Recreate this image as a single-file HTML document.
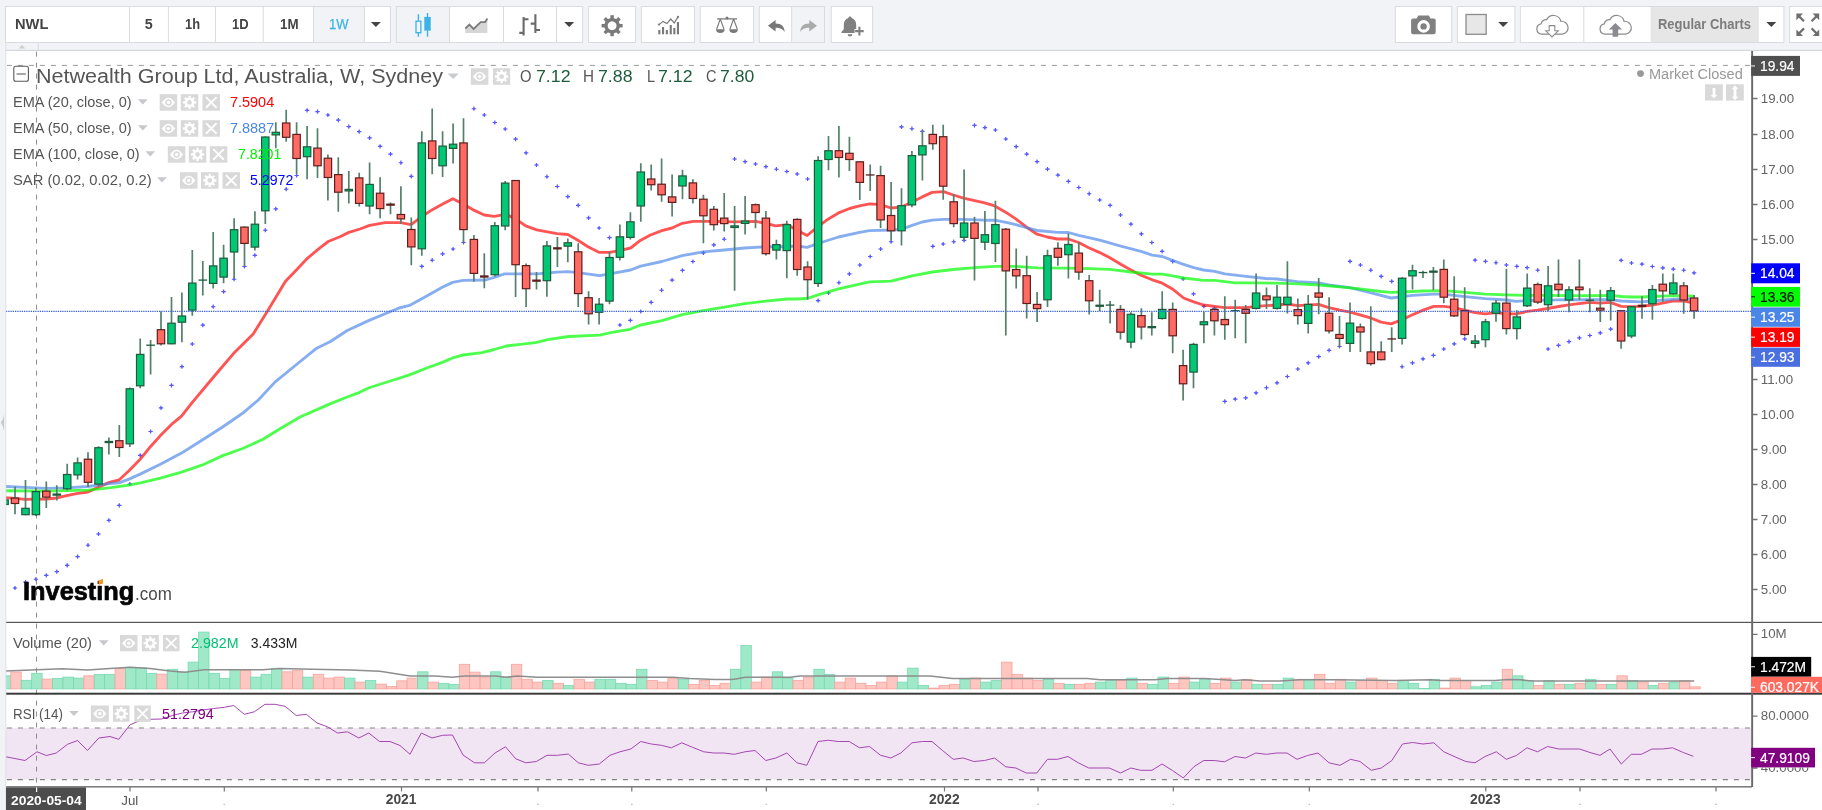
<!DOCTYPE html>
<html><head><meta charset="utf-8"><title>NWL chart</title>
<style>
html,body{margin:0;padding:0;}
body{width:1822px;height:810px;overflow:hidden;background:#f1f3f6;position:relative;font-family:"Liberation Sans",sans-serif;}
#chart{position:absolute;left:6px;top:51px;width:1816px;height:759px;background:#fff;}
svg{position:absolute;left:0;top:0;}
#labels{position:absolute;left:0;top:0;width:1822px;height:810px;will-change:transform;}
.t{position:absolute;white-space:nowrap;transform-origin:0 50%;font-family:"Liberation Sans",sans-serif;}
</style></head><body>
<div id="chart"></div>
<svg width="1822" height="810" viewBox="0 0 1822 810">
<defs><clipPath id="cm"><rect x="6" y="51" width="1745.2" height="571"/></clipPath><clipPath id="cv"><rect x="6" y="623" width="1745.2" height="70"/></clipPath><clipPath id="cr"><rect x="6" y="695" width="1745.2" height="91"/></clipPath></defs>
<rect x="6" y="728" width="1745.2" height="51.6" fill="#f1e5f3"/>
<path d="M6.9,728 H1751 M6.9,779.6 H1751" stroke="#838383" stroke-width="1.15" stroke-dasharray="5 6" fill="none"/>
<path d="M6.9,65.4 H1751" stroke="#9a9a9a" stroke-width="1" stroke-dasharray="5 6" fill="none"/>
<path d="M36.55,51.6 V786" stroke="#8a8a8a" stroke-width="1" stroke-dasharray="5 6" fill="none"/>
<g clip-path="url(#cv)">
<rect x="0.4" y="675.8" width="10.4" height="13.1" fill="#9fe9c9" stroke="#77d9b1" stroke-width="0.8"/>
<rect x="10.8" y="672.1" width="10.4" height="16.8" fill="#fdc6c1" stroke="#f7a49d" stroke-width="0.8"/>
<rect x="21.3" y="680.3" width="10.4" height="8.6" fill="#9fe9c9" stroke="#77d9b1" stroke-width="0.8"/>
<rect x="31.7" y="673.3" width="10.4" height="15.6" fill="#9fe9c9" stroke="#77d9b1" stroke-width="0.8"/>
<rect x="42.1" y="679.1" width="10.4" height="9.8" fill="#fdc6c1" stroke="#f7a49d" stroke-width="0.8"/>
<rect x="52.6" y="678.3" width="10.4" height="10.6" fill="#9fe9c9" stroke="#77d9b1" stroke-width="0.8"/>
<rect x="63.0" y="677.1" width="10.4" height="11.8" fill="#9fe9c9" stroke="#77d9b1" stroke-width="0.8"/>
<rect x="73.4" y="678.1" width="10.4" height="10.8" fill="#9fe9c9" stroke="#77d9b1" stroke-width="0.8"/>
<rect x="83.8" y="675.8" width="10.4" height="13.1" fill="#fdc6c1" stroke="#f7a49d" stroke-width="0.8"/>
<rect x="94.3" y="674.6" width="10.4" height="14.3" fill="#9fe9c9" stroke="#77d9b1" stroke-width="0.8"/>
<rect x="104.7" y="674.3" width="10.4" height="14.6" fill="#9fe9c9" stroke="#77d9b1" stroke-width="0.8"/>
<rect x="115.1" y="668.6" width="10.4" height="20.3" fill="#fdc6c1" stroke="#f7a49d" stroke-width="0.8"/>
<rect x="125.6" y="667.3" width="10.4" height="21.6" fill="#9fe9c9" stroke="#77d9b1" stroke-width="0.8"/>
<rect x="136.0" y="667.8" width="10.4" height="21.1" fill="#9fe9c9" stroke="#77d9b1" stroke-width="0.8"/>
<rect x="146.4" y="673.3" width="10.4" height="15.6" fill="#9fe9c9" stroke="#77d9b1" stroke-width="0.8"/>
<rect x="156.8" y="674.1" width="10.4" height="14.8" fill="#fdc6c1" stroke="#f7a49d" stroke-width="0.8"/>
<rect x="167.3" y="669.3" width="10.4" height="19.6" fill="#9fe9c9" stroke="#77d9b1" stroke-width="0.8"/>
<rect x="177.7" y="672.1" width="10.4" height="16.8" fill="#9fe9c9" stroke="#77d9b1" stroke-width="0.8"/>
<rect x="188.1" y="662.1" width="10.4" height="26.8" fill="#9fe9c9" stroke="#77d9b1" stroke-width="0.8"/>
<rect x="198.6" y="632.1" width="10.4" height="56.8" fill="#9fe9c9" stroke="#77d9b1" stroke-width="0.8"/>
<rect x="209.0" y="673.3" width="10.4" height="15.6" fill="#9fe9c9" stroke="#77d9b1" stroke-width="0.8"/>
<rect x="219.4" y="678.3" width="10.4" height="10.6" fill="#9fe9c9" stroke="#77d9b1" stroke-width="0.8"/>
<rect x="229.9" y="669.6" width="10.4" height="19.3" fill="#9fe9c9" stroke="#77d9b1" stroke-width="0.8"/>
<rect x="240.3" y="670.6" width="10.4" height="18.3" fill="#fdc6c1" stroke="#f7a49d" stroke-width="0.8"/>
<rect x="250.7" y="677.1" width="10.4" height="11.8" fill="#9fe9c9" stroke="#77d9b1" stroke-width="0.8"/>
<rect x="261.1" y="674.3" width="10.4" height="14.6" fill="#9fe9c9" stroke="#77d9b1" stroke-width="0.8"/>
<rect x="271.6" y="668.3" width="10.4" height="20.6" fill="#9fe9c9" stroke="#77d9b1" stroke-width="0.8"/>
<rect x="282.0" y="671.8" width="10.4" height="17.1" fill="#fdc6c1" stroke="#f7a49d" stroke-width="0.8"/>
<rect x="292.4" y="670.6" width="10.4" height="18.3" fill="#fdc6c1" stroke="#f7a49d" stroke-width="0.8"/>
<rect x="302.9" y="677.1" width="10.4" height="11.8" fill="#9fe9c9" stroke="#77d9b1" stroke-width="0.8"/>
<rect x="313.3" y="674.3" width="10.4" height="14.6" fill="#fdc6c1" stroke="#f7a49d" stroke-width="0.8"/>
<rect x="323.7" y="678.1" width="10.4" height="10.8" fill="#fdc6c1" stroke="#f7a49d" stroke-width="0.8"/>
<rect x="334.1" y="677.1" width="10.4" height="11.8" fill="#fdc6c1" stroke="#f7a49d" stroke-width="0.8"/>
<rect x="344.6" y="678.1" width="10.4" height="10.8" fill="#9fe9c9" stroke="#77d9b1" stroke-width="0.8"/>
<rect x="355.0" y="682.1" width="10.4" height="6.8" fill="#fdc6c1" stroke="#f7a49d" stroke-width="0.8"/>
<rect x="365.4" y="680.6" width="10.4" height="8.3" fill="#9fe9c9" stroke="#77d9b1" stroke-width="0.8"/>
<rect x="375.9" y="684.1" width="10.4" height="4.8" fill="#fdc6c1" stroke="#f7a49d" stroke-width="0.8"/>
<rect x="386.3" y="686.6" width="10.4" height="2.3" fill="#fdc6c1" stroke="#f7a49d" stroke-width="0.8"/>
<rect x="396.7" y="680.8" width="10.4" height="8.1" fill="#fdc6c1" stroke="#f7a49d" stroke-width="0.8"/>
<rect x="407.1" y="678.1" width="10.4" height="10.8" fill="#fdc6c1" stroke="#f7a49d" stroke-width="0.8"/>
<rect x="417.6" y="671.8" width="10.4" height="17.1" fill="#9fe9c9" stroke="#77d9b1" stroke-width="0.8"/>
<rect x="428.0" y="682.1" width="10.4" height="6.8" fill="#fdc6c1" stroke="#f7a49d" stroke-width="0.8"/>
<rect x="438.4" y="683.3" width="10.4" height="5.6" fill="#9fe9c9" stroke="#77d9b1" stroke-width="0.8"/>
<rect x="448.9" y="684.3" width="10.4" height="4.6" fill="#9fe9c9" stroke="#77d9b1" stroke-width="0.8"/>
<rect x="459.3" y="664.3" width="10.4" height="24.6" fill="#fdc6c1" stroke="#f7a49d" stroke-width="0.8"/>
<rect x="469.7" y="672.1" width="10.4" height="16.8" fill="#fdc6c1" stroke="#f7a49d" stroke-width="0.8"/>
<rect x="480.1" y="677.1" width="10.4" height="11.8" fill="#fdc6c1" stroke="#f7a49d" stroke-width="0.8"/>
<rect x="490.6" y="671.8" width="10.4" height="17.1" fill="#9fe9c9" stroke="#77d9b1" stroke-width="0.8"/>
<rect x="501.0" y="677.1" width="10.4" height="11.8" fill="#9fe9c9" stroke="#77d9b1" stroke-width="0.8"/>
<rect x="511.4" y="664.3" width="10.4" height="24.6" fill="#fdc6c1" stroke="#f7a49d" stroke-width="0.8"/>
<rect x="521.9" y="679.3" width="10.4" height="9.6" fill="#fdc6c1" stroke="#f7a49d" stroke-width="0.8"/>
<rect x="532.3" y="682.1" width="10.4" height="6.8" fill="#fdc6c1" stroke="#f7a49d" stroke-width="0.8"/>
<rect x="542.7" y="680.6" width="10.4" height="8.3" fill="#9fe9c9" stroke="#77d9b1" stroke-width="0.8"/>
<rect x="553.1" y="683.3" width="10.4" height="5.6" fill="#fdc6c1" stroke="#f7a49d" stroke-width="0.8"/>
<rect x="563.6" y="685.6" width="10.4" height="3.3" fill="#9fe9c9" stroke="#77d9b1" stroke-width="0.8"/>
<rect x="574.0" y="679.3" width="10.4" height="9.6" fill="#fdc6c1" stroke="#f7a49d" stroke-width="0.8"/>
<rect x="584.4" y="682.1" width="10.4" height="6.8" fill="#fdc6c1" stroke="#f7a49d" stroke-width="0.8"/>
<rect x="594.9" y="679.3" width="10.4" height="9.6" fill="#9fe9c9" stroke="#77d9b1" stroke-width="0.8"/>
<rect x="605.3" y="679.3" width="10.4" height="9.6" fill="#9fe9c9" stroke="#77d9b1" stroke-width="0.8"/>
<rect x="615.7" y="683.3" width="10.4" height="5.6" fill="#9fe9c9" stroke="#77d9b1" stroke-width="0.8"/>
<rect x="626.2" y="684.3" width="10.4" height="4.6" fill="#9fe9c9" stroke="#77d9b1" stroke-width="0.8"/>
<rect x="636.6" y="669.3" width="10.4" height="19.6" fill="#9fe9c9" stroke="#77d9b1" stroke-width="0.8"/>
<rect x="647.0" y="680.6" width="10.4" height="8.3" fill="#fdc6c1" stroke="#f7a49d" stroke-width="0.8"/>
<rect x="657.4" y="682.1" width="10.4" height="6.8" fill="#fdc6c1" stroke="#f7a49d" stroke-width="0.8"/>
<rect x="667.9" y="678.1" width="10.4" height="10.8" fill="#fdc6c1" stroke="#f7a49d" stroke-width="0.8"/>
<rect x="678.3" y="679.3" width="10.4" height="9.6" fill="#9fe9c9" stroke="#77d9b1" stroke-width="0.8"/>
<rect x="688.7" y="684.3" width="10.4" height="4.6" fill="#fdc6c1" stroke="#f7a49d" stroke-width="0.8"/>
<rect x="699.2" y="680.6" width="10.4" height="8.3" fill="#fdc6c1" stroke="#f7a49d" stroke-width="0.8"/>
<rect x="709.6" y="685.6" width="10.4" height="3.3" fill="#fdc6c1" stroke="#f7a49d" stroke-width="0.8"/>
<rect x="720.0" y="683.3" width="10.4" height="5.6" fill="#fdc6c1" stroke="#f7a49d" stroke-width="0.8"/>
<rect x="730.4" y="669.3" width="10.4" height="19.6" fill="#9fe9c9" stroke="#77d9b1" stroke-width="0.8"/>
<rect x="740.9" y="645.6" width="10.4" height="43.3" fill="#9fe9c9" stroke="#77d9b1" stroke-width="0.8"/>
<rect x="751.3" y="682.1" width="10.4" height="6.8" fill="#fdc6c1" stroke="#f7a49d" stroke-width="0.8"/>
<rect x="761.7" y="677.1" width="10.4" height="11.8" fill="#fdc6c1" stroke="#f7a49d" stroke-width="0.8"/>
<rect x="772.2" y="671.8" width="10.4" height="17.1" fill="#9fe9c9" stroke="#77d9b1" stroke-width="0.8"/>
<rect x="782.6" y="678.1" width="10.4" height="10.8" fill="#9fe9c9" stroke="#77d9b1" stroke-width="0.8"/>
<rect x="793.0" y="680.6" width="10.4" height="8.3" fill="#fdc6c1" stroke="#f7a49d" stroke-width="0.8"/>
<rect x="803.4" y="677.1" width="10.4" height="11.8" fill="#fdc6c1" stroke="#f7a49d" stroke-width="0.8"/>
<rect x="813.9" y="669.3" width="10.4" height="19.6" fill="#9fe9c9" stroke="#77d9b1" stroke-width="0.8"/>
<rect x="824.3" y="674.6" width="10.4" height="14.3" fill="#9fe9c9" stroke="#77d9b1" stroke-width="0.8"/>
<rect x="834.7" y="682.1" width="10.4" height="6.8" fill="#fdc6c1" stroke="#f7a49d" stroke-width="0.8"/>
<rect x="845.2" y="678.1" width="10.4" height="10.8" fill="#fdc6c1" stroke="#f7a49d" stroke-width="0.8"/>
<rect x="855.6" y="683.3" width="10.4" height="5.6" fill="#fdc6c1" stroke="#f7a49d" stroke-width="0.8"/>
<rect x="866.0" y="685.6" width="10.4" height="3.3" fill="#fdc6c1" stroke="#f7a49d" stroke-width="0.8"/>
<rect x="876.4" y="682.1" width="10.4" height="6.8" fill="#fdc6c1" stroke="#f7a49d" stroke-width="0.8"/>
<rect x="886.9" y="675.8" width="10.4" height="13.1" fill="#fdc6c1" stroke="#f7a49d" stroke-width="0.8"/>
<rect x="897.3" y="682.1" width="10.4" height="6.8" fill="#9fe9c9" stroke="#77d9b1" stroke-width="0.8"/>
<rect x="907.7" y="668.1" width="10.4" height="20.8" fill="#9fe9c9" stroke="#77d9b1" stroke-width="0.8"/>
<rect x="918.2" y="685.6" width="10.4" height="3.3" fill="#9fe9c9" stroke="#77d9b1" stroke-width="0.8"/>
<rect x="928.6" y="688.1" width="10.4" height="0.8" fill="#fdc6c1" stroke="#f7a49d" stroke-width="0.8"/>
<rect x="939.0" y="685.6" width="10.4" height="3.3" fill="#fdc6c1" stroke="#f7a49d" stroke-width="0.8"/>
<rect x="949.5" y="684.3" width="10.4" height="4.6" fill="#fdc6c1" stroke="#f7a49d" stroke-width="0.8"/>
<rect x="959.9" y="679.3" width="10.4" height="9.6" fill="#9fe9c9" stroke="#77d9b1" stroke-width="0.8"/>
<rect x="970.3" y="678.1" width="10.4" height="10.8" fill="#fdc6c1" stroke="#f7a49d" stroke-width="0.8"/>
<rect x="980.7" y="682.1" width="10.4" height="6.8" fill="#9fe9c9" stroke="#77d9b1" stroke-width="0.8"/>
<rect x="991.2" y="680.6" width="10.4" height="8.3" fill="#9fe9c9" stroke="#77d9b1" stroke-width="0.8"/>
<rect x="1001.6" y="662.1" width="10.4" height="26.8" fill="#fdc6c1" stroke="#f7a49d" stroke-width="0.8"/>
<rect x="1012.0" y="674.3" width="10.4" height="14.6" fill="#fdc6c1" stroke="#f7a49d" stroke-width="0.8"/>
<rect x="1022.5" y="678.1" width="10.4" height="10.8" fill="#fdc6c1" stroke="#f7a49d" stroke-width="0.8"/>
<rect x="1032.9" y="680.6" width="10.4" height="8.3" fill="#fdc6c1" stroke="#f7a49d" stroke-width="0.8"/>
<rect x="1043.3" y="679.3" width="10.4" height="9.6" fill="#9fe9c9" stroke="#77d9b1" stroke-width="0.8"/>
<rect x="1053.7" y="683.3" width="10.4" height="5.6" fill="#fdc6c1" stroke="#f7a49d" stroke-width="0.8"/>
<rect x="1064.2" y="684.3" width="10.4" height="4.6" fill="#9fe9c9" stroke="#77d9b1" stroke-width="0.8"/>
<rect x="1074.6" y="684.3" width="10.4" height="4.6" fill="#fdc6c1" stroke="#f7a49d" stroke-width="0.8"/>
<rect x="1085.0" y="683.3" width="10.4" height="5.6" fill="#fdc6c1" stroke="#f7a49d" stroke-width="0.8"/>
<rect x="1095.5" y="682.1" width="10.4" height="6.8" fill="#9fe9c9" stroke="#77d9b1" stroke-width="0.8"/>
<rect x="1105.9" y="680.6" width="10.4" height="8.3" fill="#9fe9c9" stroke="#77d9b1" stroke-width="0.8"/>
<rect x="1116.3" y="680.6" width="10.4" height="8.3" fill="#fdc6c1" stroke="#f7a49d" stroke-width="0.8"/>
<rect x="1126.7" y="678.1" width="10.4" height="10.8" fill="#9fe9c9" stroke="#77d9b1" stroke-width="0.8"/>
<rect x="1137.2" y="683.3" width="10.4" height="5.6" fill="#fdc6c1" stroke="#f7a49d" stroke-width="0.8"/>
<rect x="1147.6" y="684.3" width="10.4" height="4.6" fill="#9fe9c9" stroke="#77d9b1" stroke-width="0.8"/>
<rect x="1158.0" y="677.1" width="10.4" height="11.8" fill="#9fe9c9" stroke="#77d9b1" stroke-width="0.8"/>
<rect x="1168.5" y="683.3" width="10.4" height="5.6" fill="#fdc6c1" stroke="#f7a49d" stroke-width="0.8"/>
<rect x="1178.9" y="677.1" width="10.4" height="11.8" fill="#fdc6c1" stroke="#f7a49d" stroke-width="0.8"/>
<rect x="1189.3" y="682.1" width="10.4" height="6.8" fill="#9fe9c9" stroke="#77d9b1" stroke-width="0.8"/>
<rect x="1199.7" y="679.3" width="10.4" height="9.6" fill="#9fe9c9" stroke="#77d9b1" stroke-width="0.8"/>
<rect x="1210.2" y="683.3" width="10.4" height="5.6" fill="#fdc6c1" stroke="#f7a49d" stroke-width="0.8"/>
<rect x="1220.6" y="678.1" width="10.4" height="10.8" fill="#fdc6c1" stroke="#f7a49d" stroke-width="0.8"/>
<rect x="1231.0" y="682.1" width="10.4" height="6.8" fill="#9fe9c9" stroke="#77d9b1" stroke-width="0.8"/>
<rect x="1241.5" y="679.3" width="10.4" height="9.6" fill="#fdc6c1" stroke="#f7a49d" stroke-width="0.8"/>
<rect x="1251.9" y="684.3" width="10.4" height="4.6" fill="#9fe9c9" stroke="#77d9b1" stroke-width="0.8"/>
<rect x="1262.3" y="684.3" width="10.4" height="4.6" fill="#fdc6c1" stroke="#f7a49d" stroke-width="0.8"/>
<rect x="1272.8" y="684.3" width="10.4" height="4.6" fill="#9fe9c9" stroke="#77d9b1" stroke-width="0.8"/>
<rect x="1283.2" y="678.1" width="10.4" height="10.8" fill="#9fe9c9" stroke="#77d9b1" stroke-width="0.8"/>
<rect x="1293.6" y="679.3" width="10.4" height="9.6" fill="#fdc6c1" stroke="#f7a49d" stroke-width="0.8"/>
<rect x="1304.0" y="679.3" width="10.4" height="9.6" fill="#9fe9c9" stroke="#77d9b1" stroke-width="0.8"/>
<rect x="1314.5" y="674.3" width="10.4" height="14.6" fill="#fdc6c1" stroke="#f7a49d" stroke-width="0.8"/>
<rect x="1324.9" y="683.3" width="10.4" height="5.6" fill="#fdc6c1" stroke="#f7a49d" stroke-width="0.8"/>
<rect x="1335.3" y="679.3" width="10.4" height="9.6" fill="#fdc6c1" stroke="#f7a49d" stroke-width="0.8"/>
<rect x="1345.8" y="682.1" width="10.4" height="6.8" fill="#9fe9c9" stroke="#77d9b1" stroke-width="0.8"/>
<rect x="1356.2" y="680.6" width="10.4" height="8.3" fill="#fdc6c1" stroke="#f7a49d" stroke-width="0.8"/>
<rect x="1366.6" y="678.1" width="10.4" height="10.8" fill="#fdc6c1" stroke="#f7a49d" stroke-width="0.8"/>
<rect x="1377.0" y="680.6" width="10.4" height="8.3" fill="#fdc6c1" stroke="#f7a49d" stroke-width="0.8"/>
<rect x="1387.5" y="683.3" width="10.4" height="5.6" fill="#fdc6c1" stroke="#f7a49d" stroke-width="0.8"/>
<rect x="1397.9" y="680.6" width="10.4" height="8.3" fill="#9fe9c9" stroke="#77d9b1" stroke-width="0.8"/>
<rect x="1408.3" y="683.3" width="10.4" height="5.6" fill="#9fe9c9" stroke="#77d9b1" stroke-width="0.8"/>
<rect x="1418.8" y="688.6" width="10.4" height="0.3" fill="#9fe9c9" stroke="#77d9b1" stroke-width="0.8"/>
<rect x="1429.2" y="679.3" width="10.4" height="9.6" fill="#9fe9c9" stroke="#77d9b1" stroke-width="0.8"/>
<rect x="1439.6" y="688.1" width="10.4" height="0.8" fill="#fdc6c1" stroke="#f7a49d" stroke-width="0.8"/>
<rect x="1450.0" y="678.1" width="10.4" height="10.8" fill="#fdc6c1" stroke="#f7a49d" stroke-width="0.8"/>
<rect x="1460.5" y="680.6" width="10.4" height="8.3" fill="#fdc6c1" stroke="#f7a49d" stroke-width="0.8"/>
<rect x="1470.9" y="686.8" width="10.4" height="2.1" fill="#9fe9c9" stroke="#77d9b1" stroke-width="0.8"/>
<rect x="1481.3" y="685.6" width="10.4" height="3.3" fill="#9fe9c9" stroke="#77d9b1" stroke-width="0.8"/>
<rect x="1491.8" y="682.1" width="10.4" height="6.8" fill="#9fe9c9" stroke="#77d9b1" stroke-width="0.8"/>
<rect x="1502.2" y="669.3" width="10.4" height="19.6" fill="#fdc6c1" stroke="#f7a49d" stroke-width="0.8"/>
<rect x="1512.6" y="675.8" width="10.4" height="13.1" fill="#9fe9c9" stroke="#77d9b1" stroke-width="0.8"/>
<rect x="1523.0" y="680.6" width="10.4" height="8.3" fill="#9fe9c9" stroke="#77d9b1" stroke-width="0.8"/>
<rect x="1533.5" y="685.6" width="10.4" height="3.3" fill="#fdc6c1" stroke="#f7a49d" stroke-width="0.8"/>
<rect x="1543.9" y="680.6" width="10.4" height="8.3" fill="#9fe9c9" stroke="#77d9b1" stroke-width="0.8"/>
<rect x="1554.3" y="684.3" width="10.4" height="4.6" fill="#fdc6c1" stroke="#f7a49d" stroke-width="0.8"/>
<rect x="1564.8" y="684.3" width="10.4" height="4.6" fill="#9fe9c9" stroke="#77d9b1" stroke-width="0.8"/>
<rect x="1575.2" y="683.3" width="10.4" height="5.6" fill="#fdc6c1" stroke="#f7a49d" stroke-width="0.8"/>
<rect x="1585.6" y="679.3" width="10.4" height="9.6" fill="#9fe9c9" stroke="#77d9b1" stroke-width="0.8"/>
<rect x="1596.1" y="684.3" width="10.4" height="4.6" fill="#fdc6c1" stroke="#f7a49d" stroke-width="0.8"/>
<rect x="1606.5" y="684.3" width="10.4" height="4.6" fill="#9fe9c9" stroke="#77d9b1" stroke-width="0.8"/>
<rect x="1616.9" y="675.8" width="10.4" height="13.1" fill="#fdc6c1" stroke="#f7a49d" stroke-width="0.8"/>
<rect x="1627.3" y="680.6" width="10.4" height="8.3" fill="#9fe9c9" stroke="#77d9b1" stroke-width="0.8"/>
<rect x="1637.8" y="682.1" width="10.4" height="6.8" fill="#fdc6c1" stroke="#f7a49d" stroke-width="0.8"/>
<rect x="1648.2" y="685.6" width="10.4" height="3.3" fill="#9fe9c9" stroke="#77d9b1" stroke-width="0.8"/>
<rect x="1658.6" y="683.3" width="10.4" height="5.6" fill="#fdc6c1" stroke="#f7a49d" stroke-width="0.8"/>
<rect x="1669.1" y="682.1" width="10.4" height="6.8" fill="#9fe9c9" stroke="#77d9b1" stroke-width="0.8"/>
<rect x="1679.5" y="680.6" width="10.4" height="8.3" fill="#fdc6c1" stroke="#f7a49d" stroke-width="0.8"/>
<rect x="1689.9" y="686.8" width="10.4" height="2.1" fill="#fdc6c1" stroke="#f7a49d" stroke-width="0.8"/>
<path d="M6.0,671.0 L37.0,669.8 L62.5,668.8 L87.5,670.0 L110.0,668.5 L130.0,667.3 L150.0,668.5 L170.0,671.0 L185.0,672.3 L204.0,669.8 L225.0,669.8 L262.5,669.8 L280.0,668.5 L312.5,669.3 L350.0,670.0 L380.0,671.3 L410.0,676.0 L435.0,676.0 L452.5,677.3 L464.3,676.0 L495.5,676.0 L506.3,677.3 L516.8,676.0 L537.5,677.3 L590.0,677.3 L640.0,677.3 L672.5,677.3 L690.0,678.5 L715.0,679.5 L732.5,679.5 L745.5,677.3 L765.0,677.3 L790.0,677.3 L800.0,676.0 L840.0,676.0 L895.5,676.0 L930.0,676.0 L952.5,678.5 L1005.0,678.5 L1087.5,678.5 L1100.0,679.8 L1155.0,679.8 L1167.5,678.5 L1205.0,678.5 L1235.0,680.5 L1245.0,679.8 L1260.0,681.0 L1280.0,681.0 L1300.0,679.8 L1335.5,679.8 L1395.0,680.5 L1430.0,679.8 L1440.0,680.5 L1495.0,680.5 L1507.5,679.5 L1520.0,679.8 L1532.5,681.0 L1570.0,681.0 L1620.0,681.0 L1694.3,681.0" stroke="#8e8e8e" stroke-width="1.6" fill="none" stroke-linejoin="round"/>
</g>
<g clip-path="url(#cr)"><path d="M6.0,756.8 L25.0,760.5 L37.0,751.8 L46.3,755.5 L56.3,753.0 L67.5,744.3 L77.5,740.5 L87.5,750.5 L98.8,738.0 L110.0,736.5 L118.8,739.3 L130.0,724.8 L140.0,720.5 L150.0,719.3 L161.8,719.0 L172.5,715.5 L182.5,713.0 L192.5,711.8 L203.8,709.8 L213.8,708.5 L224.3,707.3 L233.8,705.5 L244.3,714.3 L254.3,711.8 L265.0,704.3 L275.0,704.3 L285.0,706.3 L296.3,715.5 L306.3,714.3 L317.0,723.0 L327.5,726.8 L337.5,733.0 L347.5,731.8 L358.8,738.0 L368.8,733.0 L379.5,741.5 L390.0,741.5 L400.0,745.5 L410.0,754.3 L421.3,733.0 L432.0,738.0 L442.5,735.3 L452.5,735.0 L463.0,755.0 L474.5,762.8 L484.3,762.8 L495.0,753.0 L505.5,746.8 L515.8,758.8 L525.8,762.8 L536.3,761.5 L547.0,755.3 L557.5,755.3 L568.3,754.0 L578.3,762.8 L588.3,765.3 L599.3,764.0 L610.0,755.3 L620.0,751.8 L630.8,749.0 L640.8,741.5 L651.3,744.0 L661.3,745.3 L671.3,747.8 L681.8,742.8 L692.5,747.3 L703.8,751.8 L713.8,753.0 L723.8,753.0 L734.3,754.3 L745.0,751.8 L755.0,750.5 L765.8,760.5 L775.8,758.0 L786.8,753.0 L797.0,762.8 L806.8,765.3 L818.0,741.5 L828.3,740.3 L838.3,741.5 L849.3,741.5 L859.5,747.8 L869.5,746.5 L880.4,755.2 L890.8,758.0 L900.8,753.0 L912.0,742.8 L922.5,741.5 L932.0,741.5 L942.5,750.5 L953.3,759.3 L963.3,758.0 L973.8,761.5 L984.5,760.5 L994.5,758.0 L1005.8,766.8 L1015.8,768.0 L1026.3,773.0 L1036.8,773.0 L1047.5,759.3 L1057.5,759.3 L1068.0,756.5 L1078.3,762.8 L1088.8,768.0 L1098.8,768.0 L1109.3,768.0 L1120.5,773.0 L1130.8,768.0 L1140.8,770.3 L1152.0,770.3 L1162.0,764.0 L1172.5,770.5 L1183.3,778.0 L1193.8,766.8 L1203.8,760.5 L1214.3,760.5 L1224.5,761.8 L1235.0,756.5 L1245.5,758.0 L1255.8,753.0 L1266.3,754.3 L1276.8,753.0 L1287.0,753.0 L1297.0,759.3 L1307.5,755.5 L1318.0,753.0 L1329.0,762.8 L1340.0,765.3 L1350.5,759.3 L1360.0,761.5 L1371.3,770.3 L1381.3,768.0 L1391.8,760.5 L1402.5,744.0 L1412.5,742.5 L1423.0,744.0 L1433.8,742.8 L1443.8,751.8 L1455.0,756.8 L1465.8,761.5 L1475.0,762.8 L1485.0,756.5 L1496.3,751.8 L1506.3,759.3 L1516.3,755.5 L1527.0,747.8 L1537.5,751.8 L1547.5,746.5 L1558.8,749.0 L1579.5,749.0 L1590.0,752.5 L1600.0,755.3 L1610.0,749.0 L1621.3,764.0 L1631.3,754.3 L1641.3,754.3 L1652.0,749.0 L1662.5,749.0 L1672.5,747.8 L1683.3,752.5 L1693.3,756.3" stroke="#a347b0" stroke-width="1" fill="none" stroke-linejoin="round"/></g>
<g clip-path="url(#cm)">
<path d="M12.8,588.0h4.4M15.0,585.9v4.2M23.3,582.1h4.4M25.5,580.0v4.2M33.7,579.2h4.4M35.9,577.1v4.2M44.1,575.3h4.4M46.3,573.2v4.2M54.6,571.6h4.4M56.8,569.5v4.2M65.0,565.4h4.4M67.2,563.3v4.2M75.4,556.6h4.4M77.6,554.5v4.2M85.8,545.2h4.4M88.0,543.1v4.2M96.3,534.0h4.4M98.5,531.9v4.2M106.7,520.3h4.4M108.9,518.2v4.2M117.1,505.4h4.4M119.3,503.3v4.2M127.6,484.0h4.4M129.8,481.9v4.2M138.0,455.4h4.4M140.2,453.3v4.2M148.4,431.5h4.4M150.6,429.4v4.2M158.8,407.8h4.4M161.0,405.7v4.2M169.3,385.4h4.4M171.5,383.3v4.2M179.7,366.6h4.4M181.9,364.5v4.2M190.1,344.0h4.4M192.3,341.9v4.2M200.6,325.1h4.4M202.8,323.0v4.2M211.0,306.7h4.4M213.2,304.6v4.2M221.4,291.6h4.4M223.6,289.5v4.2M231.9,279.2h4.4M234.1,277.1v4.2M242.3,266.5h4.4M244.5,264.4v4.2M252.7,255.3h4.4M254.9,253.2v4.2M263.1,230.2h4.4M265.3,228.1v4.2M273.6,208.8h4.4M275.8,206.7v4.2M284.0,189.2h4.4M286.2,187.1v4.2M294.4,175.5h4.4M296.6,173.4v4.2M304.9,110.3h4.4M307.1,108.2v4.2M315.3,111.6h4.4M317.5,109.5v4.2M325.7,115.0h4.4M327.9,112.9v4.2M336.1,120.1h4.4M338.3,118.0v4.2M346.6,126.6h4.4M348.8,124.5v4.2M357.0,131.6h4.4M359.2,129.5v4.2M367.4,137.8h4.4M369.6,135.7v4.2M377.9,146.3h4.4M380.1,144.2v4.2M388.3,154.1h4.4M390.5,152.0v4.2M398.7,162.7h4.4M400.9,160.6v4.2M409.1,176.4h4.4M411.3,174.3v4.2M419.6,266.4h4.4M421.8,264.3v4.2M430.0,260.2h4.4M432.2,258.1v4.2M440.4,253.9h4.4M442.6,251.8v4.2M450.9,249.0h4.4M453.1,246.9v4.2M461.3,242.5h4.4M463.5,240.4v4.2M471.7,108.7h4.4M473.9,106.6v4.2M482.1,115.0h4.4M484.3,112.9v4.2M492.6,122.5h4.4M494.8,120.4v4.2M503.0,129.0h4.4M505.2,126.9v4.2M513.4,139.1h4.4M515.6,137.0v4.2M523.9,152.8h4.4M526.1,150.7v4.2M534.3,165.0h4.4M536.5,162.9v4.2M544.7,176.7h4.4M546.9,174.6v4.2M555.1,186.5h4.4M557.4,184.4v4.2M565.6,196.6h4.4M567.8,194.5v4.2M576.0,205.4h4.4M578.2,203.3v4.2M586.4,217.9h4.4M588.6,215.8v4.2M596.9,228.0h4.4M599.1,225.9v4.2M607.3,237.6h4.4M609.5,235.5v4.2M617.7,325.0h4.4M619.9,322.9v4.2M628.2,320.3h4.4M630.4,318.2v4.2M638.6,311.5h4.4M640.8,309.4v4.2M649.0,302.4h4.4M651.2,300.3v4.2M659.4,290.2h4.4M661.6,288.1v4.2M669.9,280.1h4.4M672.1,278.0v4.2M680.3,270.3h4.4M682.5,268.2v4.2M690.7,261.5h4.4M692.9,259.4v4.2M701.2,252.9h4.4M703.4,250.8v4.2M711.6,244.9h4.4M713.8,242.8v4.2M722.0,239.2h4.4M724.2,237.1v4.2M732.4,159.0h4.4M734.6,156.9v4.2M742.9,161.6h4.4M745.1,159.5v4.2M753.3,164.0h4.4M755.5,161.9v4.2M763.7,166.6h4.4M765.9,164.5v4.2M774.2,169.2h4.4M776.4,167.1v4.2M784.6,171.5h4.4M786.8,169.4v4.2M795.0,174.0h4.4M797.2,171.9v4.2M805.4,179.0h4.4M807.6,176.9v4.2M815.9,300.6h4.4M818.1,298.5v4.2M826.3,293.0h4.4M828.5,290.9v4.2M836.7,282.7h4.4M838.9,280.6v4.2M847.2,273.9h4.4M849.4,271.8v4.2M857.6,265.0h4.4M859.8,262.9v4.2M868.0,256.5h4.4M870.2,254.4v4.2M878.4,249.0h4.4M880.6,246.9v4.2M888.9,241.7h4.4M891.1,239.6v4.2M899.3,126.9h4.4M901.5,124.8v4.2M909.7,128.7h4.4M911.9,126.6v4.2M920.2,131.3h4.4M922.4,129.2v4.2M930.6,246.4h4.4M932.8,244.3v4.2M941.0,244.0h4.4M943.2,241.9v4.2M951.5,241.7h4.4M953.7,239.6v4.2M961.9,240.4h4.4M964.1,238.3v4.2M972.3,125.3h4.4M974.5,123.2v4.2M982.7,127.6h4.4M984.9,125.5v4.2M993.2,130.0h4.4M995.4,127.9v4.2M1003.6,139.0h4.4M1005.8,136.9v4.2M1014.0,146.6h4.4M1016.2,144.5v4.2M1024.5,154.1h4.4M1026.7,152.0v4.2M1034.9,161.6h4.4M1037.1,159.5v4.2M1045.3,169.1h4.4M1047.5,167.0v4.2M1055.7,175.1h4.4M1057.9,173.0v4.2M1066.2,181.3h4.4M1068.4,179.2v4.2M1076.6,187.5h4.4M1078.8,185.4v4.2M1087.0,193.7h4.4M1089.2,191.6v4.2M1097.5,200.0h4.4M1099.7,197.9v4.2M1107.9,205.3h4.4M1110.1,203.2v4.2M1118.3,215.0h4.4M1120.5,212.9v4.2M1128.7,224.1h4.4M1130.9,222.0v4.2M1139.2,233.9h4.4M1141.4,231.8v4.2M1149.6,242.5h4.4M1151.8,240.4v4.2M1160.0,251.3h4.4M1162.2,249.2v4.2M1170.5,261.4h4.4M1172.7,259.3v4.2M1180.9,278.8h4.4M1183.1,276.7v4.2M1191.3,293.8h4.4M1193.5,291.7v4.2M1201.7,306.3h4.4M1203.9,304.2v4.2M1212.2,308.4h4.4M1214.4,306.3v4.2M1222.6,401.4h4.4M1224.8,399.3v4.2M1233.0,399.1h4.4M1235.2,397.0v4.2M1243.5,397.8h4.4M1245.7,395.7v4.2M1253.9,392.9h4.4M1256.1,390.8v4.2M1264.3,387.7h4.4M1266.5,385.6v4.2M1274.8,382.8h4.4M1277.0,380.7v4.2M1285.2,376.5h4.4M1287.4,374.4v4.2M1295.6,369.0h4.4M1297.8,366.9v4.2M1306.0,362.8h4.4M1308.2,360.7v4.2M1316.5,356.6h4.4M1318.7,354.5v4.2M1326.9,350.3h4.4M1329.1,348.2v4.2M1337.3,346.5h4.4M1339.5,344.4v4.2M1347.8,261.4h4.4M1350.0,259.3v4.2M1358.2,265.0h4.4M1360.4,262.9v4.2M1368.6,270.2h4.4M1370.8,268.1v4.2M1379.0,276.4h4.4M1381.2,274.3v4.2M1389.5,281.4h4.4M1391.7,279.3v4.2M1399.9,366.7h4.4M1402.1,364.6v4.2M1410.3,362.8h4.4M1412.5,360.7v4.2M1420.8,358.9h4.4M1423.0,356.8v4.2M1431.2,355.3h4.4M1433.4,353.2v4.2M1441.6,349.0h4.4M1443.8,346.9v4.2M1452.0,343.9h4.4M1454.2,341.8v4.2M1462.5,338.9h4.4M1464.7,336.8v4.2M1472.9,260.1h4.4M1475.1,258.0v4.2M1483.3,261.4h4.4M1485.5,259.3v4.2M1493.8,262.7h4.4M1496.0,260.6v4.2M1504.2,265.0h4.4M1506.4,262.9v4.2M1514.6,266.3h4.4M1516.8,264.2v4.2M1525.0,267.6h4.4M1527.2,265.5v4.2M1535.5,270.2h4.4M1537.7,268.1v4.2M1545.9,349.0h4.4M1548.1,346.9v4.2M1556.3,345.4h4.4M1558.5,343.3v4.2M1566.8,341.6h4.4M1569.0,339.5v4.2M1577.2,337.8h4.4M1579.4,335.7v4.2M1587.6,335.5h4.4M1589.8,333.4v4.2M1598.1,332.8h4.4M1600.3,330.7v4.2M1608.5,329.1h4.4M1610.7,327.0v4.2M1618.9,260.4h4.4M1621.1,258.3v4.2M1629.3,263.0h4.4M1631.5,260.9v4.2M1639.8,264.1h4.4M1642.0,262.0v4.2M1650.2,266.5h4.4M1652.4,264.4v4.2M1660.6,267.9h4.4M1662.8,265.8v4.2M1671.1,269.1h4.4M1673.3,267.0v4.2M1681.5,270.2h4.4M1683.7,268.1v4.2M1691.9,272.9h4.4M1694.1,270.8v4.2" stroke="#5555ff" stroke-width="1.15" fill="none"/>
<g fill="#5a5aff"><circle cx="15.0" cy="588.0" r="1.05"/><circle cx="25.5" cy="582.1" r="1.05"/><circle cx="35.9" cy="579.2" r="1.05"/><circle cx="46.3" cy="575.3" r="1.05"/><circle cx="56.8" cy="571.6" r="1.05"/><circle cx="67.2" cy="565.4" r="1.05"/><circle cx="77.6" cy="556.6" r="1.05"/><circle cx="88.0" cy="545.2" r="1.05"/><circle cx="98.5" cy="534.0" r="1.05"/><circle cx="108.9" cy="520.3" r="1.05"/><circle cx="119.3" cy="505.4" r="1.05"/><circle cx="129.8" cy="484.0" r="1.05"/><circle cx="140.2" cy="455.4" r="1.05"/><circle cx="150.6" cy="431.5" r="1.05"/><circle cx="161.0" cy="407.8" r="1.05"/><circle cx="171.5" cy="385.4" r="1.05"/><circle cx="181.9" cy="366.6" r="1.05"/><circle cx="192.3" cy="344.0" r="1.05"/><circle cx="202.8" cy="325.1" r="1.05"/><circle cx="213.2" cy="306.7" r="1.05"/><circle cx="223.6" cy="291.6" r="1.05"/><circle cx="234.1" cy="279.2" r="1.05"/><circle cx="244.5" cy="266.5" r="1.05"/><circle cx="254.9" cy="255.3" r="1.05"/><circle cx="265.3" cy="230.2" r="1.05"/><circle cx="275.8" cy="208.8" r="1.05"/><circle cx="286.2" cy="189.2" r="1.05"/><circle cx="296.6" cy="175.5" r="1.05"/><circle cx="307.1" cy="110.3" r="1.05"/><circle cx="317.5" cy="111.6" r="1.05"/><circle cx="327.9" cy="115.0" r="1.05"/><circle cx="338.3" cy="120.1" r="1.05"/><circle cx="348.8" cy="126.6" r="1.05"/><circle cx="359.2" cy="131.6" r="1.05"/><circle cx="369.6" cy="137.8" r="1.05"/><circle cx="380.1" cy="146.3" r="1.05"/><circle cx="390.5" cy="154.1" r="1.05"/><circle cx="400.9" cy="162.7" r="1.05"/><circle cx="411.3" cy="176.4" r="1.05"/><circle cx="421.8" cy="266.4" r="1.05"/><circle cx="432.2" cy="260.2" r="1.05"/><circle cx="442.6" cy="253.9" r="1.05"/><circle cx="453.1" cy="249.0" r="1.05"/><circle cx="463.5" cy="242.5" r="1.05"/><circle cx="473.9" cy="108.7" r="1.05"/><circle cx="484.3" cy="115.0" r="1.05"/><circle cx="494.8" cy="122.5" r="1.05"/><circle cx="505.2" cy="129.0" r="1.05"/><circle cx="515.6" cy="139.1" r="1.05"/><circle cx="526.1" cy="152.8" r="1.05"/><circle cx="536.5" cy="165.0" r="1.05"/><circle cx="546.9" cy="176.7" r="1.05"/><circle cx="557.4" cy="186.5" r="1.05"/><circle cx="567.8" cy="196.6" r="1.05"/><circle cx="578.2" cy="205.4" r="1.05"/><circle cx="588.6" cy="217.9" r="1.05"/><circle cx="599.1" cy="228.0" r="1.05"/><circle cx="609.5" cy="237.6" r="1.05"/><circle cx="619.9" cy="325.0" r="1.05"/><circle cx="630.4" cy="320.3" r="1.05"/><circle cx="640.8" cy="311.5" r="1.05"/><circle cx="651.2" cy="302.4" r="1.05"/><circle cx="661.6" cy="290.2" r="1.05"/><circle cx="672.1" cy="280.1" r="1.05"/><circle cx="682.5" cy="270.3" r="1.05"/><circle cx="692.9" cy="261.5" r="1.05"/><circle cx="703.4" cy="252.9" r="1.05"/><circle cx="713.8" cy="244.9" r="1.05"/><circle cx="724.2" cy="239.2" r="1.05"/><circle cx="734.6" cy="159.0" r="1.05"/><circle cx="745.1" cy="161.6" r="1.05"/><circle cx="755.5" cy="164.0" r="1.05"/><circle cx="765.9" cy="166.6" r="1.05"/><circle cx="776.4" cy="169.2" r="1.05"/><circle cx="786.8" cy="171.5" r="1.05"/><circle cx="797.2" cy="174.0" r="1.05"/><circle cx="807.6" cy="179.0" r="1.05"/><circle cx="818.1" cy="300.6" r="1.05"/><circle cx="828.5" cy="293.0" r="1.05"/><circle cx="838.9" cy="282.7" r="1.05"/><circle cx="849.4" cy="273.9" r="1.05"/><circle cx="859.8" cy="265.0" r="1.05"/><circle cx="870.2" cy="256.5" r="1.05"/><circle cx="880.6" cy="249.0" r="1.05"/><circle cx="891.1" cy="241.7" r="1.05"/><circle cx="901.5" cy="126.9" r="1.05"/><circle cx="911.9" cy="128.7" r="1.05"/><circle cx="922.4" cy="131.3" r="1.05"/><circle cx="932.8" cy="246.4" r="1.05"/><circle cx="943.2" cy="244.0" r="1.05"/><circle cx="953.7" cy="241.7" r="1.05"/><circle cx="964.1" cy="240.4" r="1.05"/><circle cx="974.5" cy="125.3" r="1.05"/><circle cx="984.9" cy="127.6" r="1.05"/><circle cx="995.4" cy="130.0" r="1.05"/><circle cx="1005.8" cy="139.0" r="1.05"/><circle cx="1016.2" cy="146.6" r="1.05"/><circle cx="1026.7" cy="154.1" r="1.05"/><circle cx="1037.1" cy="161.6" r="1.05"/><circle cx="1047.5" cy="169.1" r="1.05"/><circle cx="1057.9" cy="175.1" r="1.05"/><circle cx="1068.4" cy="181.3" r="1.05"/><circle cx="1078.8" cy="187.5" r="1.05"/><circle cx="1089.2" cy="193.7" r="1.05"/><circle cx="1099.7" cy="200.0" r="1.05"/><circle cx="1110.1" cy="205.3" r="1.05"/><circle cx="1120.5" cy="215.0" r="1.05"/><circle cx="1130.9" cy="224.1" r="1.05"/><circle cx="1141.4" cy="233.9" r="1.05"/><circle cx="1151.8" cy="242.5" r="1.05"/><circle cx="1162.2" cy="251.3" r="1.05"/><circle cx="1172.7" cy="261.4" r="1.05"/><circle cx="1183.1" cy="278.8" r="1.05"/><circle cx="1193.5" cy="293.8" r="1.05"/><circle cx="1203.9" cy="306.3" r="1.05"/><circle cx="1214.4" cy="308.4" r="1.05"/><circle cx="1224.8" cy="401.4" r="1.05"/><circle cx="1235.2" cy="399.1" r="1.05"/><circle cx="1245.7" cy="397.8" r="1.05"/><circle cx="1256.1" cy="392.9" r="1.05"/><circle cx="1266.5" cy="387.7" r="1.05"/><circle cx="1277.0" cy="382.8" r="1.05"/><circle cx="1287.4" cy="376.5" r="1.05"/><circle cx="1297.8" cy="369.0" r="1.05"/><circle cx="1308.2" cy="362.8" r="1.05"/><circle cx="1318.7" cy="356.6" r="1.05"/><circle cx="1329.1" cy="350.3" r="1.05"/><circle cx="1339.5" cy="346.5" r="1.05"/><circle cx="1350.0" cy="261.4" r="1.05"/><circle cx="1360.4" cy="265.0" r="1.05"/><circle cx="1370.8" cy="270.2" r="1.05"/><circle cx="1381.2" cy="276.4" r="1.05"/><circle cx="1391.7" cy="281.4" r="1.05"/><circle cx="1402.1" cy="366.7" r="1.05"/><circle cx="1412.5" cy="362.8" r="1.05"/><circle cx="1423.0" cy="358.9" r="1.05"/><circle cx="1433.4" cy="355.3" r="1.05"/><circle cx="1443.8" cy="349.0" r="1.05"/><circle cx="1454.2" cy="343.9" r="1.05"/><circle cx="1464.7" cy="338.9" r="1.05"/><circle cx="1475.1" cy="260.1" r="1.05"/><circle cx="1485.5" cy="261.4" r="1.05"/><circle cx="1496.0" cy="262.7" r="1.05"/><circle cx="1506.4" cy="265.0" r="1.05"/><circle cx="1516.8" cy="266.3" r="1.05"/><circle cx="1527.2" cy="267.6" r="1.05"/><circle cx="1537.7" cy="270.2" r="1.05"/><circle cx="1548.1" cy="349.0" r="1.05"/><circle cx="1558.5" cy="345.4" r="1.05"/><circle cx="1569.0" cy="341.6" r="1.05"/><circle cx="1579.4" cy="337.8" r="1.05"/><circle cx="1589.8" cy="335.5" r="1.05"/><circle cx="1600.3" cy="332.8" r="1.05"/><circle cx="1610.7" cy="329.1" r="1.05"/><circle cx="1621.1" cy="260.4" r="1.05"/><circle cx="1631.5" cy="263.0" r="1.05"/><circle cx="1642.0" cy="264.1" r="1.05"/><circle cx="1652.4" cy="266.5" r="1.05"/><circle cx="1662.8" cy="267.9" r="1.05"/><circle cx="1673.3" cy="269.1" r="1.05"/><circle cx="1683.7" cy="270.2" r="1.05"/><circle cx="1694.1" cy="272.9" r="1.05"/></g>
<path d="M5.6,497.6 L25.4,499.4 L46.3,499.0 L56.5,498.0 L66.7,495.7 L77.8,493.3 L88.0,492.0 L98.0,487.4 L109.3,482.4 L119.0,480.0 L129.0,470.7 L140.7,458.7 L150.4,446.7 L160.4,435.6 L171.5,424.4 L181.5,416.1 L191.7,403.1 L205.2,387.0 L218.2,371.5 L233.7,353.3 L253.2,333.9 L267.4,311.3 L285.5,281.2 L295.9,270.4 L307.4,258.3 L319.3,248.3 L328.2,241.5 L340.0,236.7 L348.9,232.4 L360.0,229.0 L369.6,225.4 L385.2,222.6 L400.7,222.6 L411.1,224.6 L421.5,216.9 L431.9,209.9 L442.7,203.9 L452.9,198.7 L463.2,203.9 L474.4,210.4 L484.2,215.0 L494.3,216.3 L505.5,214.3 L515.6,218.9 L525.7,225.9 L536.7,229.8 L556.9,233.7 L567.8,234.5 L577.9,240.2 L588.0,246.7 L599.4,252.4 L609.6,252.4 L619.4,250.6 L630.6,248.0 L640.7,240.2 L650.5,235.0 L661.9,230.6 L672.0,228.0 L682.2,223.3 L693.3,221.3 L703.2,221.3 L713.3,221.3 L734.5,221.8 L755.8,221.3 L765.9,223.3 L775.8,225.9 L787.2,224.6 L797.0,230.2 L807.1,235.5 L818.0,226.7 L828.4,218.9 L838.5,212.9 L849.6,208.5 L859.5,205.9 L869.6,203.9 L880.7,204.6 L890.9,208.0 L901.0,207.2 L912.1,202.0 L922.2,196.9 L932.1,192.4 L943.5,191.7 L953.3,195.0 L963.5,198.2 L974.6,200.7 L984.7,202.8 L994.8,205.9 L1006.0,212.4 L1015.8,218.9 L1025.9,226.7 L1037.1,234.2 L1047.2,237.0 L1057.3,239.0 L1068.4,239.0 L1078.6,242.5 L1088.7,247.8 L1099.8,252.6 L1109.9,257.8 L1120.8,264.3 L1130.9,270.0 L1141.0,275.2 L1152.2,279.8 L1162.3,283.2 L1172.4,288.9 L1183.6,298.0 L1193.7,301.9 L1203.5,305.0 L1214.7,306.3 L1224.8,307.6 L1234.9,307.6 L1246.0,307.6 L1256.2,306.3 L1266.0,305.7 L1277.4,305.0 L1287.3,304.0 L1297.4,305.7 L1318.6,304.4 L1328.7,307.6 L1339.9,310.2 L1350.0,312.2 L1359.9,314.8 L1371.3,318.2 L1381.1,322.1 L1391.2,323.9 L1402.4,319.5 L1412.5,314.8 L1422.6,310.4 L1433.7,306.3 L1443.9,306.3 L1453.7,307.6 L1464.9,310.2 L1475.0,312.7 L1485.1,313.8 L1496.2,312.7 L1506.3,313.8 L1516.2,313.8 L1527.3,311.4 L1537.5,310.2 L1547.6,308.5 L1558.8,306.5 L1568.8,304.8 L1578.9,303.7 L1589.8,302.3 L1600.1,303.1 L1610.2,302.3 L1621.3,306.3 L1631.4,306.6 L1641.2,306.3 L1652.4,305.0 L1662.4,303.1 L1672.5,301.0 L1683.7,301.0 L1693.8,302.9" stroke="#ff0000" stroke-opacity="0.67" stroke-width="2.85" fill="none" stroke-linejoin="round" stroke-linecap="round"/>
<path d="M5.6,486.5 L25.4,487.4 L46.3,488.3 L66.7,487.8 L88.0,486.5 L109.3,483.7 L119.0,482.8 L129.0,479.1 L140.7,473.9 L160.4,464.3 L181.5,453.1 L201.9,440.2 L222.2,427.2 L242.6,413.3 L258.3,400.0 L275.2,381.9 L295.9,365.0 L316.7,348.2 L330.0,341.7 L347.3,330.5 L369.7,320.1 L388.8,312.3 L399.1,308.0 L409.5,305.4 L426.8,295.9 L442.3,287.3 L452.7,282.4 L463.1,280.4 L485.5,280.0 L494.2,277.3 L504.5,273.8 L537.4,273.8 L556.9,272.1 L568.5,271.7 L577.9,272.6 L599.6,275.7 L609.6,273.9 L630.6,270.0 L640.7,266.1 L661.9,261.5 L682.2,255.7 L703.2,251.9 L724.4,250.0 L744.6,248.0 L765.9,246.7 L787.2,246.7 L797.0,246.0 L807.1,247.4 L818.0,243.5 L838.5,237.0 L859.5,232.4 L869.6,230.6 L890.9,230.0 L901.0,229.3 L912.1,225.4 L922.2,222.0 L932.1,220.2 L943.5,219.4 L963.5,219.4 L984.7,220.2 L994.8,220.2 L1006.0,222.3 L1015.8,224.6 L1025.9,227.5 L1037.1,230.5 L1057.3,232.3 L1068.4,232.5 L1078.6,235.4 L1099.8,240.1 L1120.8,246.1 L1141.0,251.3 L1152.2,255.2 L1162.3,256.5 L1172.4,260.4 L1183.6,264.3 L1193.7,267.6 L1203.5,270.0 L1214.7,271.3 L1224.8,273.9 L1246.0,276.4 L1266.0,278.5 L1277.4,279.0 L1287.3,280.3 L1297.4,281.6 L1318.6,282.9 L1328.7,285.0 L1350.0,287.6 L1371.3,292.8 L1391.2,298.0 L1402.4,296.7 L1412.5,295.4 L1433.7,294.1 L1443.9,294.1 L1453.7,295.4 L1464.9,296.7 L1485.1,298.7 L1506.3,300.0 L1516.2,301.3 L1527.3,300.6 L1547.6,300.1 L1568.8,299.6 L1589.8,299.7 L1610.2,299.7 L1621.3,301.0 L1631.4,301.5 L1641.2,301.8 L1652.4,301.0 L1662.4,300.2 L1672.5,299.4 L1683.7,298.6 L1693.8,299.1" stroke="#4985e7" stroke-opacity="0.67" stroke-width="2.85" fill="none" stroke-linejoin="round" stroke-linecap="round"/>
<path d="M5.6,490.7 L46.3,491.1 L88.0,490.2 L109.3,487.8 L129.0,485.2 L140.7,482.8 L160.4,478.1 L181.5,472.2 L201.9,465.2 L222.2,455.9 L242.6,448.5 L263.0,439.3 L279.6,429.0 L300.0,417.0 L330.0,403.9 L347.3,397.0 L357.6,393.2 L369.7,387.5 L388.8,381.5 L409.5,374.9 L426.8,368.0 L442.3,362.4 L454.4,357.3 L463.1,355.0 L482.1,352.6 L494.2,349.5 L506.3,346.0 L520.1,344.3 L535.6,342.6 L547.7,339.6 L568.5,336.5 L599.6,335.1 L613.4,332.2 L630.0,329.3 L640.7,325.0 L661.9,320.6 L682.2,314.6 L703.2,310.7 L724.4,307.1 L744.6,303.7 L765.9,301.1 L787.2,299.0 L797.0,299.0 L807.1,298.5 L818.0,294.9 L838.5,288.9 L859.5,284.2 L869.6,281.9 L890.9,281.1 L912.1,275.9 L932.1,272.0 L953.3,269.5 L974.6,267.6 L994.8,266.3 L1015.8,266.3 L1037.1,267.8 L1068.4,268.1 L1088.7,268.7 L1109.9,269.4 L1130.9,272.0 L1152.2,274.1 L1162.3,274.1 L1172.4,275.9 L1183.6,278.0 L1203.5,280.3 L1214.7,280.3 L1234.9,282.9 L1256.2,282.9 L1277.4,283.2 L1297.4,283.9 L1318.6,285.0 L1339.9,286.8 L1359.9,288.9 L1381.1,291.5 L1391.2,292.3 L1402.4,292.0 L1422.6,291.0 L1443.9,290.7 L1464.9,292.3 L1485.1,294.1 L1506.3,294.9 L1527.3,295.4 L1547.6,295.4 L1568.8,295.6 L1589.8,295.7 L1610.2,295.4 L1621.3,296.5 L1631.4,297.0 L1641.2,297.0 L1652.4,296.5 L1662.4,296.2 L1672.5,295.7 L1683.7,295.7 L1693.8,296.2" stroke="#00ff00" stroke-opacity="0.7" stroke-width="2.85" fill="none" stroke-linejoin="round" stroke-linecap="round"/>
<path d="M4.6,495.0V508.0M15.0,486.5V514.3M25.5,480.0V515.2M35.9,487.4V516.0M46.3,481.5V508.1M56.8,485.2V500.4M67.2,463.7V490.6M77.6,457.4V479.4M88.0,452.2V487.0M98.5,446.3V486.5M108.9,437.4V454.6M119.3,425.0V456.9M129.8,387.4V447.0M140.2,338.6V388.3M150.6,339.9V374.6M161.0,311.3V345.6M171.5,297.1V344.3M181.9,292.4V342.2M192.3,249.9V315.7M202.8,261.0V295.5M213.2,232.0V288.5M223.6,244.7V283.3M234.1,218.3V278.2M244.5,226.6V266.0M254.9,211.3V250.4M265.3,136.5V224.0M275.8,122.2V148.2M286.2,109.8V141.7M296.6,122.2V174.1M307.1,126.1V179.3M317.5,128.2V178.0M327.9,154.6V200.5M338.3,157.2V211.7M348.8,171.0V203.4M359.2,172.8V206.5M369.6,162.4V214.3M380.1,177.2V218.2M390.5,202.6V214.3M400.9,186.3V224.1M411.3,217.4V265.3M421.8,131.3V255.7M432.2,108.5V174.3M442.6,131.3V176.9M453.1,123.5V163.4M463.5,118.3V242.3M473.9,235.0V281.7M484.3,253.2V288.2M494.8,222.0V276.5M505.2,181.1V230.3M515.6,180.0V297.0M526.1,263.5V307.1M536.5,272.1V289.5M546.9,241.0V296.7M557.4,237.1V266.9M567.8,238.4V262.2M578.2,243.3V307.1M588.6,291.3V324.5M599.1,298.0V324.5M609.5,251.9V304.2M619.9,224.6V260.4M630.4,212.2V239.4M640.8,163.2V221.8M651.2,164.5V190.4M661.6,158.5V201.8M672.1,174.6V216.6M682.5,169.7V199.2M692.9,179.3V203.4M703.4,194.8V243.3M713.8,206.0V230.6M724.2,193.0V231.6M734.6,206.0V290.7M745.1,196.1V234.5M755.5,203.4V228.3M765.9,210.9V255.5M776.4,239.7V259.6M786.8,220.7V278.3M797.2,218.2V275.8M807.6,261.2V299.5M818.1,156.2V287.1M828.5,135.9V170.2M838.9,126.1V177.4M849.4,136.7V170.9M859.8,161.3V200.0M870.2,164.4V190.9M880.6,165.7V228.0M891.1,182.1V240.4M901.5,188.3V245.6M911.9,151.0V207.2M922.4,130.0V180.5M932.8,124.8V149.7M943.2,124.8V199.7M953.7,194.3V227.2M964.1,169.6V240.4M974.5,216.8V280.6M984.9,211.1V250.0M995.4,200.7V261.9M1005.8,228.0V335.6M1016.2,248.4V288.4M1026.7,255.8V318.4M1037.1,292.0V322.1M1047.5,249.7V307.0M1057.9,242.2V265.7M1068.4,233.4V278.5M1078.8,242.2V279.8M1089.2,275.0V314.5M1099.7,289.7V310.9M1110.1,301.1V323.4M1120.5,305.0V339.4M1130.9,312.2V348.3M1141.4,308.3V339.4M1151.8,312.2V335.6M1162.2,291.2V319.5M1172.7,302.4V353.2M1183.1,349.8V400.6M1193.5,342.8V388.2M1203.9,311.7V343.3M1214.4,307.6V335.6M1224.8,296.2V339.7M1235.2,299.8V338.2M1245.7,305.0V343.3M1256.1,273.6V309.6M1266.5,287.6V308.9M1277.0,285.0V309.6M1287.4,261.2V313.5M1297.8,298.5V324.4M1308.2,294.9V333.5M1318.7,278.0V314.3M1329.1,297.2V333.5M1339.5,316.1V346.5M1350.0,302.4V351.9M1360.4,323.4V351.9M1370.8,306.3V365.4M1381.2,341.3V360.2M1391.7,327.3V351.9M1402.1,277.2V344.6M1412.5,264.8V289.4M1423.0,270.7V278.0M1433.4,266.9V290.2M1443.8,259.6V303.2M1454.2,276.2V316.9M1464.7,287.3V336.3M1475.1,335.0V348.3M1485.5,318.7V347.2M1496.0,300.0V321.8M1506.4,268.7V334.5M1516.8,310.2V339.4M1527.2,273.6V307.0M1537.7,282.4V303.9M1548.1,266.1V310.9M1558.5,259.6V297.0M1569.0,286.2V312.2M1579.4,259.6V299.7M1589.8,288.2V312.2M1600.3,289.8V321.9M1610.7,287.0V320.6M1621.1,310.2V348.7M1631.5,306.3V338.2M1642.0,296.2V318.7M1652.4,285.0V319.8M1662.8,273.4V301.8M1673.3,273.4V294.6M1683.7,282.1V313.8M1694.1,294.9V318.7" stroke="#55806b" stroke-width="1.7" fill="none"/>
<rect x="0.9" y="499.90" width="7.4" height="4.60" fill="#00c875" stroke="#1f5a3d" stroke-width="1.2"/>
<rect x="11.3" y="498.10" width="7.4" height="5.40" fill="#ff6b62" stroke="#5e1e1e" stroke-width="1.2"/>
<rect x="21.8" y="508.30" width="7.4" height="6.40" fill="#00c875" stroke="#1f5a3d" stroke-width="1.2"/>
<rect x="32.2" y="491.60" width="7.4" height="23.10" fill="#00c875" stroke="#1f5a3d" stroke-width="1.2"/>
<rect x="42.6" y="491.10" width="7.4" height="6.00" fill="#ff6b62" stroke="#5e1e1e" stroke-width="1.2"/>
<rect x="52.5" y="493.45" width="8.6" height="2.3" fill="#1f5a3d"/>
<rect x="63.5" y="474.50" width="7.4" height="14.30" fill="#00c875" stroke="#1f5a3d" stroke-width="1.2"/>
<rect x="73.9" y="462.90" width="7.4" height="12.00" fill="#00c875" stroke="#1f5a3d" stroke-width="1.2"/>
<rect x="84.3" y="459.20" width="7.4" height="23.10" fill="#ff6b62" stroke="#5e1e1e" stroke-width="1.2"/>
<rect x="94.8" y="447.70" width="7.4" height="36.40" fill="#00c875" stroke="#1f5a3d" stroke-width="1.2"/>
<rect x="104.6" y="440.85" width="8.6" height="2.3" fill="#1f5a3d"/>
<rect x="115.6" y="440.70" width="7.4" height="6.80" fill="#ff6b62" stroke="#5e1e1e" stroke-width="1.2"/>
<rect x="126.1" y="388.80" width="7.4" height="55.00" fill="#00c875" stroke="#1f5a3d" stroke-width="1.2"/>
<rect x="136.5" y="354.40" width="7.4" height="31.40" fill="#00c875" stroke="#1f5a3d" stroke-width="1.2"/>
<rect x="146.3" y="344.55" width="8.6" height="1.3" fill="#1f5a3d"/>
<rect x="157.3" y="329.70" width="7.4" height="14.10" fill="#ff6b62" stroke="#5e1e1e" stroke-width="1.2"/>
<rect x="167.8" y="323.20" width="7.4" height="20.60" fill="#00c875" stroke="#1f5a3d" stroke-width="1.2"/>
<rect x="178.2" y="316.00" width="7.4" height="6.20" fill="#00c875" stroke="#1f5a3d" stroke-width="1.2"/>
<rect x="188.6" y="283.10" width="7.4" height="27.00" fill="#00c875" stroke="#1f5a3d" stroke-width="1.2"/>
<rect x="198.5" y="279.45" width="8.6" height="1.3" fill="#1f5a3d"/>
<rect x="209.5" y="265.90" width="7.4" height="17.50" fill="#00c875" stroke="#1f5a3d" stroke-width="1.2"/>
<rect x="219.9" y="258.20" width="7.4" height="18.90" fill="#00c875" stroke="#1f5a3d" stroke-width="1.2"/>
<rect x="230.4" y="229.70" width="7.4" height="22.30" fill="#00c875" stroke="#1f5a3d" stroke-width="1.2"/>
<rect x="240.8" y="227.10" width="7.4" height="16.30" fill="#ff6b62" stroke="#5e1e1e" stroke-width="1.2"/>
<rect x="251.2" y="224.20" width="7.4" height="22.90" fill="#00c875" stroke="#1f5a3d" stroke-width="1.2"/>
<rect x="261.6" y="137.00" width="7.4" height="73.80" fill="#00c875" stroke="#1f5a3d" stroke-width="1.2"/>
<rect x="272.1" y="132.30" width="7.4" height="2.60" fill="#00c875" stroke="#1f5a3d" stroke-width="1.2"/>
<rect x="282.5" y="123.00" width="7.4" height="14.30" fill="#ff6b62" stroke="#5e1e1e" stroke-width="1.2"/>
<rect x="292.9" y="134.40" width="7.4" height="24.10" fill="#ff6b62" stroke="#5e1e1e" stroke-width="1.2"/>
<rect x="303.4" y="146.80" width="7.4" height="9.90" fill="#00c875" stroke="#1f5a3d" stroke-width="1.2"/>
<rect x="313.8" y="148.10" width="7.4" height="17.70" fill="#ff6b62" stroke="#5e1e1e" stroke-width="1.2"/>
<rect x="324.2" y="158.20" width="7.4" height="19.30" fill="#ff6b62" stroke="#5e1e1e" stroke-width="1.2"/>
<rect x="334.6" y="174.60" width="7.4" height="17.60" fill="#ff6b62" stroke="#5e1e1e" stroke-width="1.2"/>
<rect x="345.1" y="189.40" width="7.4" height="1.50" fill="#00c875" stroke="#1f5a3d" stroke-width="1.2"/>
<rect x="355.5" y="177.90" width="7.4" height="25.50" fill="#ff6b62" stroke="#5e1e1e" stroke-width="1.2"/>
<rect x="365.9" y="184.40" width="7.4" height="21.60" fill="#00c875" stroke="#1f5a3d" stroke-width="1.2"/>
<rect x="376.4" y="193.20" width="7.4" height="15.40" fill="#ff6b62" stroke="#5e1e1e" stroke-width="1.2"/>
<rect x="386.2" y="203.50" width="8.6" height="2.3" fill="#5e1e1e"/>
<rect x="397.2" y="214.50" width="7.4" height="4.40" fill="#ff6b62" stroke="#5e1e1e" stroke-width="1.2"/>
<rect x="407.6" y="229.50" width="7.4" height="17.40" fill="#ff6b62" stroke="#5e1e1e" stroke-width="1.2"/>
<rect x="418.1" y="142.90" width="7.4" height="105.90" fill="#00c875" stroke="#1f5a3d" stroke-width="1.2"/>
<rect x="428.5" y="140.90" width="7.4" height="17.60" fill="#ff6b62" stroke="#5e1e1e" stroke-width="1.2"/>
<rect x="438.9" y="146.10" width="7.4" height="19.70" fill="#00c875" stroke="#1f5a3d" stroke-width="1.2"/>
<rect x="449.4" y="144.20" width="7.4" height="4.20" fill="#00c875" stroke="#1f5a3d" stroke-width="1.2"/>
<rect x="459.8" y="142.90" width="7.4" height="86.70" fill="#ff6b62" stroke="#5e1e1e" stroke-width="1.2"/>
<rect x="470.2" y="239.40" width="7.4" height="34.00" fill="#ff6b62" stroke="#5e1e1e" stroke-width="1.2"/>
<rect x="480.0" y="275.35" width="8.6" height="2.3" fill="#5e1e1e"/>
<rect x="491.1" y="225.70" width="7.4" height="49.00" fill="#00c875" stroke="#1f5a3d" stroke-width="1.2"/>
<rect x="501.5" y="183.10" width="7.4" height="42.90" fill="#00c875" stroke="#1f5a3d" stroke-width="1.2"/>
<rect x="511.9" y="180.50" width="7.4" height="84.20" fill="#ff6b62" stroke="#5e1e1e" stroke-width="1.2"/>
<rect x="522.4" y="265.60" width="7.4" height="23.10" fill="#ff6b62" stroke="#5e1e1e" stroke-width="1.2"/>
<rect x="532.2" y="279.50" width="8.6" height="2.3" fill="#5e1e1e"/>
<rect x="543.2" y="245.90" width="7.4" height="34.80" fill="#00c875" stroke="#1f5a3d" stroke-width="1.2"/>
<rect x="553.1" y="247.20" width="8.6" height="2.3" fill="#5e1e1e"/>
<rect x="564.1" y="242.80" width="7.4" height="3.40" fill="#00c875" stroke="#1f5a3d" stroke-width="1.2"/>
<rect x="574.5" y="251.80" width="7.4" height="41.80" fill="#ff6b62" stroke="#5e1e1e" stroke-width="1.2"/>
<rect x="584.9" y="297.70" width="7.4" height="16.10" fill="#ff6b62" stroke="#5e1e1e" stroke-width="1.2"/>
<rect x="595.4" y="304.20" width="7.4" height="8.10" fill="#00c875" stroke="#1f5a3d" stroke-width="1.2"/>
<rect x="605.8" y="257.50" width="7.4" height="43.60" fill="#00c875" stroke="#1f5a3d" stroke-width="1.2"/>
<rect x="616.2" y="236.80" width="7.4" height="20.50" fill="#00c875" stroke="#1f5a3d" stroke-width="1.2"/>
<rect x="626.7" y="221.80" width="7.4" height="15.60" fill="#00c875" stroke="#1f5a3d" stroke-width="1.2"/>
<rect x="637.1" y="172.00" width="7.4" height="34.00" fill="#00c875" stroke="#1f5a3d" stroke-width="1.2"/>
<rect x="647.5" y="179.00" width="7.4" height="5.70" fill="#ff6b62" stroke="#5e1e1e" stroke-width="1.2"/>
<rect x="657.9" y="184.20" width="7.4" height="10.60" fill="#ff6b62" stroke="#5e1e1e" stroke-width="1.2"/>
<rect x="668.4" y="196.90" width="7.4" height="5.50" fill="#ff6b62" stroke="#5e1e1e" stroke-width="1.2"/>
<rect x="678.8" y="175.90" width="7.4" height="10.10" fill="#00c875" stroke="#1f5a3d" stroke-width="1.2"/>
<rect x="689.2" y="182.90" width="7.4" height="15.60" fill="#ff6b62" stroke="#5e1e1e" stroke-width="1.2"/>
<rect x="699.7" y="199.20" width="7.4" height="16.60" fill="#ff6b62" stroke="#5e1e1e" stroke-width="1.2"/>
<rect x="710.1" y="209.30" width="7.4" height="15.40" fill="#ff6b62" stroke="#5e1e1e" stroke-width="1.2"/>
<rect x="720.5" y="218.10" width="7.4" height="5.50" fill="#ff6b62" stroke="#5e1e1e" stroke-width="1.2"/>
<rect x="730.9" y="225.90" width="7.4" height="1.60" fill="#00c875" stroke="#1f5a3d" stroke-width="1.2"/>
<rect x="741.4" y="221.00" width="7.4" height="2.40" fill="#00c875" stroke="#1f5a3d" stroke-width="1.2"/>
<rect x="751.8" y="204.70" width="7.4" height="7.80" fill="#ff6b62" stroke="#5e1e1e" stroke-width="1.2"/>
<rect x="762.2" y="218.10" width="7.4" height="35.60" fill="#ff6b62" stroke="#5e1e1e" stroke-width="1.2"/>
<rect x="772.7" y="244.60" width="7.4" height="5.50" fill="#00c875" stroke="#1f5a3d" stroke-width="1.2"/>
<rect x="783.1" y="224.60" width="7.4" height="26.00" fill="#00c875" stroke="#1f5a3d" stroke-width="1.2"/>
<rect x="793.5" y="219.40" width="7.4" height="50.10" fill="#ff6b62" stroke="#5e1e1e" stroke-width="1.2"/>
<rect x="803.9" y="267.00" width="7.4" height="12.70" fill="#ff6b62" stroke="#5e1e1e" stroke-width="1.2"/>
<rect x="814.4" y="160.50" width="7.4" height="123.00" fill="#00c875" stroke="#1f5a3d" stroke-width="1.2"/>
<rect x="824.8" y="150.70" width="7.4" height="8.80" fill="#00c875" stroke="#1f5a3d" stroke-width="1.2"/>
<rect x="835.2" y="150.70" width="7.4" height="6.80" fill="#ff6b62" stroke="#5e1e1e" stroke-width="1.2"/>
<rect x="845.7" y="153.30" width="7.4" height="6.20" fill="#ff6b62" stroke="#5e1e1e" stroke-width="1.2"/>
<rect x="856.1" y="161.80" width="7.4" height="20.60" fill="#ff6b62" stroke="#5e1e1e" stroke-width="1.2"/>
<rect x="865.9" y="174.30" width="8.6" height="1.3" fill="#5e1e1e"/>
<rect x="876.9" y="175.60" width="7.4" height="44.30" fill="#ff6b62" stroke="#5e1e1e" stroke-width="1.2"/>
<rect x="887.4" y="215.50" width="7.4" height="15.30" fill="#ff6b62" stroke="#5e1e1e" stroke-width="1.2"/>
<rect x="897.8" y="205.70" width="7.4" height="25.10" fill="#00c875" stroke="#1f5a3d" stroke-width="1.2"/>
<rect x="908.2" y="155.60" width="7.4" height="49.30" fill="#00c875" stroke="#1f5a3d" stroke-width="1.2"/>
<rect x="918.7" y="145.80" width="7.4" height="9.10" fill="#00c875" stroke="#1f5a3d" stroke-width="1.2"/>
<rect x="929.1" y="134.40" width="7.4" height="9.30" fill="#ff6b62" stroke="#5e1e1e" stroke-width="1.2"/>
<rect x="939.5" y="136.70" width="7.4" height="49.50" fill="#ff6b62" stroke="#5e1e1e" stroke-width="1.2"/>
<rect x="950.0" y="201.80" width="7.4" height="21.80" fill="#ff6b62" stroke="#5e1e1e" stroke-width="1.2"/>
<rect x="960.4" y="223.00" width="7.4" height="14.30" fill="#00c875" stroke="#1f5a3d" stroke-width="1.2"/>
<rect x="970.8" y="223.00" width="7.4" height="15.40" fill="#ff6b62" stroke="#5e1e1e" stroke-width="1.2"/>
<rect x="981.2" y="234.70" width="7.4" height="7.50" fill="#00c875" stroke="#1f5a3d" stroke-width="1.2"/>
<rect x="991.7" y="224.60" width="7.4" height="18.90" fill="#00c875" stroke="#1f5a3d" stroke-width="1.2"/>
<rect x="1002.1" y="229.20" width="7.4" height="41.70" fill="#ff6b62" stroke="#5e1e1e" stroke-width="1.2"/>
<rect x="1012.5" y="269.50" width="7.4" height="6.40" fill="#ff6b62" stroke="#5e1e1e" stroke-width="1.2"/>
<rect x="1023.0" y="275.70" width="7.4" height="27.80" fill="#ff6b62" stroke="#5e1e1e" stroke-width="1.2"/>
<rect x="1033.4" y="304.40" width="7.4" height="4.20" fill="#ff6b62" stroke="#5e1e1e" stroke-width="1.2"/>
<rect x="1043.8" y="255.70" width="7.4" height="44.10" fill="#00c875" stroke="#1f5a3d" stroke-width="1.2"/>
<rect x="1054.2" y="248.30" width="7.4" height="9.00" fill="#ff6b62" stroke="#5e1e1e" stroke-width="1.2"/>
<rect x="1064.7" y="244.50" width="7.4" height="10.20" fill="#00c875" stroke="#1f5a3d" stroke-width="1.2"/>
<rect x="1075.1" y="253.10" width="7.4" height="19.00" fill="#ff6b62" stroke="#5e1e1e" stroke-width="1.2"/>
<rect x="1085.5" y="280.70" width="7.4" height="20.10" fill="#ff6b62" stroke="#5e1e1e" stroke-width="1.2"/>
<rect x="1095.4" y="304.60" width="8.6" height="2.3" fill="#1f5a3d"/>
<rect x="1105.8" y="304.45" width="8.6" height="1.3" fill="#1f5a3d"/>
<rect x="1116.8" y="309.40" width="7.4" height="22.80" fill="#ff6b62" stroke="#5e1e1e" stroke-width="1.2"/>
<rect x="1127.2" y="314.30" width="7.4" height="27.80" fill="#00c875" stroke="#1f5a3d" stroke-width="1.2"/>
<rect x="1137.7" y="315.60" width="7.4" height="11.40" fill="#ff6b62" stroke="#5e1e1e" stroke-width="1.2"/>
<rect x="1147.5" y="326.00" width="8.6" height="2.3" fill="#1f5a3d"/>
<rect x="1158.5" y="309.40" width="7.4" height="9.10" fill="#00c875" stroke="#1f5a3d" stroke-width="1.2"/>
<rect x="1169.0" y="309.40" width="7.4" height="26.40" fill="#ff6b62" stroke="#5e1e1e" stroke-width="1.2"/>
<rect x="1179.4" y="365.60" width="7.4" height="18.20" fill="#ff6b62" stroke="#5e1e1e" stroke-width="1.2"/>
<rect x="1189.8" y="344.40" width="7.4" height="27.70" fill="#00c875" stroke="#1f5a3d" stroke-width="1.2"/>
<rect x="1200.2" y="321.80" width="7.4" height="2.90" fill="#00c875" stroke="#1f5a3d" stroke-width="1.2"/>
<rect x="1210.7" y="309.40" width="7.4" height="11.40" fill="#ff6b62" stroke="#5e1e1e" stroke-width="1.2"/>
<rect x="1221.1" y="319.50" width="7.4" height="5.20" fill="#ff6b62" stroke="#5e1e1e" stroke-width="1.2"/>
<rect x="1230.9" y="310.05" width="8.6" height="1.3" fill="#1f5a3d"/>
<rect x="1242.0" y="309.40" width="7.4" height="3.90" fill="#ff6b62" stroke="#5e1e1e" stroke-width="1.2"/>
<rect x="1252.4" y="293.00" width="7.4" height="15.40" fill="#00c875" stroke="#1f5a3d" stroke-width="1.2"/>
<rect x="1262.8" y="295.90" width="7.4" height="3.90" fill="#ff6b62" stroke="#5e1e1e" stroke-width="1.2"/>
<rect x="1273.3" y="297.20" width="7.4" height="11.20" fill="#00c875" stroke="#1f5a3d" stroke-width="1.2"/>
<rect x="1283.7" y="297.20" width="7.4" height="7.30" fill="#00c875" stroke="#1f5a3d" stroke-width="1.2"/>
<rect x="1294.1" y="309.60" width="7.4" height="6.00" fill="#ff6b62" stroke="#5e1e1e" stroke-width="1.2"/>
<rect x="1304.5" y="304.40" width="7.4" height="19.00" fill="#00c875" stroke="#1f5a3d" stroke-width="1.2"/>
<rect x="1315.0" y="293.00" width="7.4" height="4.20" fill="#ff6b62" stroke="#5e1e1e" stroke-width="1.2"/>
<rect x="1325.4" y="313.20" width="7.4" height="17.70" fill="#ff6b62" stroke="#5e1e1e" stroke-width="1.2"/>
<rect x="1335.8" y="334.50" width="7.4" height="3.90" fill="#ff6b62" stroke="#5e1e1e" stroke-width="1.2"/>
<rect x="1346.3" y="323.10" width="7.4" height="20.30" fill="#00c875" stroke="#1f5a3d" stroke-width="1.2"/>
<rect x="1356.7" y="327.00" width="7.4" height="5.00" fill="#ff6b62" stroke="#5e1e1e" stroke-width="1.2"/>
<rect x="1367.1" y="351.90" width="7.4" height="11.70" fill="#ff6b62" stroke="#5e1e1e" stroke-width="1.2"/>
<rect x="1377.5" y="351.90" width="7.4" height="7.80" fill="#ff6b62" stroke="#5e1e1e" stroke-width="1.2"/>
<rect x="1387.4" y="338.30" width="8.6" height="1.3" fill="#5e1e1e"/>
<rect x="1398.4" y="278.20" width="7.4" height="60.20" fill="#00c875" stroke="#1f5a3d" stroke-width="1.2"/>
<rect x="1408.8" y="270.70" width="7.4" height="5.20" fill="#00c875" stroke="#1f5a3d" stroke-width="1.2"/>
<rect x="1418.7" y="271.90" width="8.6" height="1.3" fill="#1f5a3d"/>
<rect x="1429.1" y="270.50" width="8.6" height="2.3" fill="#1f5a3d"/>
<rect x="1440.1" y="269.40" width="7.4" height="27.80" fill="#ff6b62" stroke="#5e1e1e" stroke-width="1.2"/>
<rect x="1450.5" y="299.20" width="7.4" height="16.70" fill="#ff6b62" stroke="#5e1e1e" stroke-width="1.2"/>
<rect x="1461.0" y="310.70" width="7.4" height="23.80" fill="#ff6b62" stroke="#5e1e1e" stroke-width="1.2"/>
<rect x="1471.4" y="341.00" width="7.4" height="2.40" fill="#00c875" stroke="#1f5a3d" stroke-width="1.2"/>
<rect x="1481.8" y="321.80" width="7.4" height="17.90" fill="#00c875" stroke="#1f5a3d" stroke-width="1.2"/>
<rect x="1492.3" y="303.10" width="7.4" height="10.20" fill="#00c875" stroke="#1f5a3d" stroke-width="1.2"/>
<rect x="1502.7" y="303.10" width="7.4" height="25.50" fill="#ff6b62" stroke="#5e1e1e" stroke-width="1.2"/>
<rect x="1513.1" y="316.90" width="7.4" height="11.70" fill="#00c875" stroke="#1f5a3d" stroke-width="1.2"/>
<rect x="1523.5" y="288.10" width="7.4" height="17.70" fill="#00c875" stroke="#1f5a3d" stroke-width="1.2"/>
<rect x="1534.0" y="284.50" width="7.4" height="17.60" fill="#ff6b62" stroke="#5e1e1e" stroke-width="1.2"/>
<rect x="1544.4" y="285.80" width="7.4" height="18.90" fill="#00c875" stroke="#1f5a3d" stroke-width="1.2"/>
<rect x="1554.8" y="284.20" width="7.4" height="5.50" fill="#ff6b62" stroke="#5e1e1e" stroke-width="1.2"/>
<rect x="1565.3" y="289.80" width="7.4" height="10.20" fill="#00c875" stroke="#1f5a3d" stroke-width="1.2"/>
<rect x="1575.7" y="287.10" width="7.4" height="2.60" fill="#ff6b62" stroke="#5e1e1e" stroke-width="1.2"/>
<rect x="1585.5" y="299.55" width="8.6" height="1.3" fill="#1f5a3d"/>
<rect x="1596.6" y="308.20" width="7.4" height="1.90" fill="#ff6b62" stroke="#5e1e1e" stroke-width="1.2"/>
<rect x="1607.0" y="290.70" width="7.4" height="9.50" fill="#00c875" stroke="#1f5a3d" stroke-width="1.2"/>
<rect x="1617.4" y="310.70" width="7.4" height="30.30" fill="#ff6b62" stroke="#5e1e1e" stroke-width="1.2"/>
<rect x="1627.8" y="306.80" width="7.4" height="29.20" fill="#00c875" stroke="#1f5a3d" stroke-width="1.2"/>
<rect x="1637.7" y="304.65" width="8.6" height="2.3" fill="#5e1e1e"/>
<rect x="1648.7" y="289.50" width="7.4" height="14.20" fill="#00c875" stroke="#1f5a3d" stroke-width="1.2"/>
<rect x="1659.1" y="284.20" width="7.4" height="6.70" fill="#ff6b62" stroke="#5e1e1e" stroke-width="1.2"/>
<rect x="1669.6" y="282.90" width="7.4" height="10.90" fill="#00c875" stroke="#1f5a3d" stroke-width="1.2"/>
<rect x="1680.0" y="285.80" width="7.4" height="14.20" fill="#ff6b62" stroke="#5e1e1e" stroke-width="1.2"/>
<rect x="1690.4" y="298.00" width="7.4" height="12.90" fill="#ff6b62" stroke="#5e1e1e" stroke-width="1.2"/>
</g>
<path d="M6,311.4 H1751" stroke="#3a62dc" stroke-width="1.2" stroke-dasharray="1.3 0.95" fill="none"/>
<rect x="6" y="621.8" width="1816" height="1.2" fill="#555"/>
<rect x="6" y="692.7" width="1816" height="2" fill="#3c3c3c"/>
<rect x="6" y="786" width="1746" height="1.6" fill="#808080"/>
<rect x="1751.2" y="51" width="1.9" height="736" fill="#686868"/>
<rect x="5.3" y="43" width="1" height="767" fill="#dfe2e7"/>
<path d="M1753,98.5h4.5M1753,134.5h4.5M1753,169.5h4.5M1753,204.5h4.5M1753,239.5h4.5M1753,379.5h4.5M1753,414.5h4.5M1753,449.5h4.5M1753,484.5h4.5M1753,519.5h4.5M1753,554.5h4.5M1753,589.5h4.5M1753,634.3h4.5M1753,716.2h4.5M1753,768h4.5" stroke="#747474" stroke-width="1.3" fill="none"/>
<path d="M37,787v4.6M130,787v4.6M224.3,787v4.6M401.5,787v4.6M538,787v4.6M631.8,787v4.6M766.3,787v4.6M944.5,787v4.6M1038,787v4.6M1173.3,787v4.6M1309.3,787v4.6M1485.8,787v4.6M1580,787v4.6M1716,787v4.6" stroke="#777" stroke-width="1.2" fill="none"/>
<g fill="#b5b5b5"><rect x="223.5" y="803.8" width="1.6" height="1"/><rect x="537.2" y="803.8" width="1.6" height="1"/><rect x="631.0" y="803.8" width="1.6" height="1"/><rect x="765.5" y="803.8" width="1.6" height="1"/><rect x="1037.2" y="803.8" width="1.6" height="1"/><rect x="1172.5" y="803.8" width="1.6" height="1"/><rect x="1308.5" y="803.8" width="1.6" height="1"/><rect x="1579.2" y="803.8" width="1.6" height="1"/><rect x="1715.2" y="803.8" width="1.6" height="1"/></g>
<rect x="1751.2" y="55.9" width="48.8" height="20.000000000000007" fill="#4f4f4f"/>
<rect x="1751.2" y="65.4" width="3.8" height="1.1" fill="#fff" opacity="0.9"/>
<rect x="1751.2" y="263.3" width="48.8" height="20.0" fill="#0000ff"/>
<rect x="1751.2" y="272.8" width="3.8" height="1.1" fill="#fff" opacity="0.9"/>
<rect x="1751.2" y="286.9" width="48.8" height="19.80000000000001" fill="#00ff00"/>
<rect x="1751.2" y="296.2" width="3.8" height="1.1" fill="#111" opacity="0.9"/>
<rect x="1751.2" y="307.4" width="48.8" height="19.400000000000034" fill="#4a86e8"/>
<rect x="1751.2" y="316.6" width="3.8" height="1.1" fill="#fff" opacity="0.9"/>
<rect x="1751.2" y="327.5" width="48.8" height="19.399999999999977" fill="#ff0000"/>
<rect x="1751.2" y="336.6" width="3.8" height="1.1" fill="#fff" opacity="0.9"/>
<rect x="1751.2" y="347.6" width="48.8" height="19.19999999999999" fill="#4a6fe0"/>
<rect x="1751.2" y="356.7" width="3.8" height="1.1" fill="#fff" opacity="0.9"/>
<rect x="1751.2" y="656.9" width="60.0" height="19.800000000000068" fill="#000"/>
<rect x="1751.2" y="666.2" width="3.8" height="1.1" fill="#fff" opacity="0.9"/>
<rect x="1751.2" y="676.8" width="71" height="16" fill="#ff6a5f"/>
<rect x="1751.2" y="686.8" width="3.8" height="1.1" fill="#fff" opacity="0.9"/>
<rect x="1751.2" y="747.8" width="63.8" height="19.600000000000023" fill="#800080"/>
<rect x="1751.2" y="757.0" width="3.8" height="1.1" fill="#fff" opacity="0.9"/>
<rect x="6" y="787.4" width="80" height="23" fill="#4c4c4c"/>
<rect x="36" y="787.4" width="1.2" height="4.6" fill="#fff"/>
<rect x="13.8" y="66.3" width="14.6" height="15" rx="2" fill="#fff" stroke="#5a5a5a" stroke-width="1.1"/><path d="M16.5,74H25.8" stroke="#777" stroke-width="1.3"/>
<path d="M447.6,73.6H458.8L453.20000000000005,79Z" fill="#c9cbcf"/>
<rect x="470.8" y="68.2" width="17.6" height="16.6" fill="#d9d9d9"/>
<path d="M473.0,76.5 Q479.6,67.1 486.20000000000005,76.5 Q479.6,85.9 473.0,76.5Z" fill="#fff"/><circle cx="479.6" cy="76.5" r="3.2" fill="#d9d9d9"/><circle cx="479.6" cy="76.5" r="1.7" fill="#fff"/>
<rect x="493" y="68.2" width="17.2" height="16.6" fill="#d9d9d9"/>
<g transform="translate(501.6,76.5)" fill="#fff"><path d="M0,-4.94A4.94,4.94 0 1 1 -0.01,-4.94Z M0,-2.34A2.34,2.34 0 1 0 0.01,-2.34Z" fill-rule="evenodd"/><rect x="-1.09" y="-6.66" width="2.18" height="2.60" transform="rotate(0)"/><rect x="-1.09" y="-6.66" width="2.18" height="2.60" transform="rotate(45)"/><rect x="-1.09" y="-6.66" width="2.18" height="2.60" transform="rotate(90)"/><rect x="-1.09" y="-6.66" width="2.18" height="2.60" transform="rotate(135)"/><rect x="-1.09" y="-6.66" width="2.18" height="2.60" transform="rotate(180)"/><rect x="-1.09" y="-6.66" width="2.18" height="2.60" transform="rotate(225)"/><rect x="-1.09" y="-6.66" width="2.18" height="2.60" transform="rotate(270)"/><rect x="-1.09" y="-6.66" width="2.18" height="2.60" transform="rotate(315)"/></g>
<path d="M137.9,99.2H147.70000000000002L142.8,104.39999999999999Z" fill="#c6c8cc"/>
<rect x="159.7" y="94.2" width="17.5" height="16.5" fill="#d9d9d9"/>
<path d="M161.85,102.45 Q168.45,93.05 175.04999999999998,102.45 Q168.45,111.85000000000001 161.85,102.45Z" fill="#fff"/><circle cx="168.45" cy="102.45" r="3.2" fill="#d9d9d9"/><circle cx="168.45" cy="102.45" r="1.7" fill="#fff"/>
<rect x="180.8" y="94.2" width="17.5" height="16.5" fill="#d9d9d9"/>
<g transform="translate(189.55,102.45)" fill="#fff"><path d="M0,-4.94A4.94,4.94 0 1 1 -0.01,-4.94Z M0,-2.34A2.34,2.34 0 1 0 0.01,-2.34Z" fill-rule="evenodd"/><rect x="-1.09" y="-6.66" width="2.18" height="2.60" transform="rotate(0)"/><rect x="-1.09" y="-6.66" width="2.18" height="2.60" transform="rotate(45)"/><rect x="-1.09" y="-6.66" width="2.18" height="2.60" transform="rotate(90)"/><rect x="-1.09" y="-6.66" width="2.18" height="2.60" transform="rotate(135)"/><rect x="-1.09" y="-6.66" width="2.18" height="2.60" transform="rotate(180)"/><rect x="-1.09" y="-6.66" width="2.18" height="2.60" transform="rotate(225)"/><rect x="-1.09" y="-6.66" width="2.18" height="2.60" transform="rotate(270)"/><rect x="-1.09" y="-6.66" width="2.18" height="2.60" transform="rotate(315)"/></g>
<rect x="202.5" y="94.2" width="17.5" height="16.5" fill="#d9d9d9"/>
<path d="M205.95,97.15L216.55,107.75M216.55,97.15L205.95,107.75" stroke="#fff" stroke-width="1.9" fill="none"/>
<path d="M137.9,125.20000000000002H147.70000000000002L142.8,130.4Z" fill="#c6c8cc"/>
<rect x="159.7" y="120.20000000000002" width="17.5" height="16.5" fill="#d9d9d9"/>
<path d="M161.85,128.45000000000002 Q168.45,119.05000000000001 175.04999999999998,128.45000000000002 Q168.45,137.85000000000002 161.85,128.45000000000002Z" fill="#fff"/><circle cx="168.45" cy="128.45000000000002" r="3.2" fill="#d9d9d9"/><circle cx="168.45" cy="128.45000000000002" r="1.7" fill="#fff"/>
<rect x="180.8" y="120.20000000000002" width="17.5" height="16.5" fill="#d9d9d9"/>
<g transform="translate(189.55,128.45000000000002)" fill="#fff"><path d="M0,-4.94A4.94,4.94 0 1 1 -0.01,-4.94Z M0,-2.34A2.34,2.34 0 1 0 0.01,-2.34Z" fill-rule="evenodd"/><rect x="-1.09" y="-6.66" width="2.18" height="2.60" transform="rotate(0)"/><rect x="-1.09" y="-6.66" width="2.18" height="2.60" transform="rotate(45)"/><rect x="-1.09" y="-6.66" width="2.18" height="2.60" transform="rotate(90)"/><rect x="-1.09" y="-6.66" width="2.18" height="2.60" transform="rotate(135)"/><rect x="-1.09" y="-6.66" width="2.18" height="2.60" transform="rotate(180)"/><rect x="-1.09" y="-6.66" width="2.18" height="2.60" transform="rotate(225)"/><rect x="-1.09" y="-6.66" width="2.18" height="2.60" transform="rotate(270)"/><rect x="-1.09" y="-6.66" width="2.18" height="2.60" transform="rotate(315)"/></g>
<rect x="202.5" y="120.20000000000002" width="17.5" height="16.5" fill="#d9d9d9"/>
<path d="M205.95,123.15000000000002L216.55,133.75000000000003M216.55,123.15000000000002L205.95,133.75000000000003" stroke="#fff" stroke-width="1.9" fill="none"/>
<path d="M145.4,151.20000000000002H155.20000000000002L150.3,156.4Z" fill="#c6c8cc"/>
<rect x="167.8" y="146.20000000000002" width="17.5" height="16.5" fill="#d9d9d9"/>
<path d="M169.95000000000002,154.45000000000002 Q176.55,145.05 183.15,154.45000000000002 Q176.55,163.85000000000002 169.95000000000002,154.45000000000002Z" fill="#fff"/><circle cx="176.55" cy="154.45000000000002" r="3.2" fill="#d9d9d9"/><circle cx="176.55" cy="154.45000000000002" r="1.7" fill="#fff"/>
<rect x="188.8" y="146.20000000000002" width="17.5" height="16.5" fill="#d9d9d9"/>
<g transform="translate(197.55,154.45000000000002)" fill="#fff"><path d="M0,-4.94A4.94,4.94 0 1 1 -0.01,-4.94Z M0,-2.34A2.34,2.34 0 1 0 0.01,-2.34Z" fill-rule="evenodd"/><rect x="-1.09" y="-6.66" width="2.18" height="2.60" transform="rotate(0)"/><rect x="-1.09" y="-6.66" width="2.18" height="2.60" transform="rotate(45)"/><rect x="-1.09" y="-6.66" width="2.18" height="2.60" transform="rotate(90)"/><rect x="-1.09" y="-6.66" width="2.18" height="2.60" transform="rotate(135)"/><rect x="-1.09" y="-6.66" width="2.18" height="2.60" transform="rotate(180)"/><rect x="-1.09" y="-6.66" width="2.18" height="2.60" transform="rotate(225)"/><rect x="-1.09" y="-6.66" width="2.18" height="2.60" transform="rotate(270)"/><rect x="-1.09" y="-6.66" width="2.18" height="2.60" transform="rotate(315)"/></g>
<rect x="209.8" y="146.20000000000002" width="17.5" height="16.5" fill="#d9d9d9"/>
<path d="M213.25,149.15L223.85000000000002,159.75000000000003M223.85000000000002,149.15L213.25,159.75000000000003" stroke="#fff" stroke-width="1.9" fill="none"/>
<path d="M157.1,177.20000000000002H166.9L162.0,182.4Z" fill="#c6c8cc"/>
<rect x="180" y="172.20000000000002" width="17.5" height="16.5" fill="#d9d9d9"/>
<path d="M182.15,180.45000000000002 Q188.75,171.05 195.35,180.45000000000002 Q188.75,189.85000000000002 182.15,180.45000000000002Z" fill="#fff"/><circle cx="188.75" cy="180.45000000000002" r="3.2" fill="#d9d9d9"/><circle cx="188.75" cy="180.45000000000002" r="1.7" fill="#fff"/>
<rect x="201" y="172.20000000000002" width="17.5" height="16.5" fill="#d9d9d9"/>
<g transform="translate(209.75,180.45000000000002)" fill="#fff"><path d="M0,-4.94A4.94,4.94 0 1 1 -0.01,-4.94Z M0,-2.34A2.34,2.34 0 1 0 0.01,-2.34Z" fill-rule="evenodd"/><rect x="-1.09" y="-6.66" width="2.18" height="2.60" transform="rotate(0)"/><rect x="-1.09" y="-6.66" width="2.18" height="2.60" transform="rotate(45)"/><rect x="-1.09" y="-6.66" width="2.18" height="2.60" transform="rotate(90)"/><rect x="-1.09" y="-6.66" width="2.18" height="2.60" transform="rotate(135)"/><rect x="-1.09" y="-6.66" width="2.18" height="2.60" transform="rotate(180)"/><rect x="-1.09" y="-6.66" width="2.18" height="2.60" transform="rotate(225)"/><rect x="-1.09" y="-6.66" width="2.18" height="2.60" transform="rotate(270)"/><rect x="-1.09" y="-6.66" width="2.18" height="2.60" transform="rotate(315)"/></g>
<rect x="222.5" y="172.20000000000002" width="17.5" height="16.5" fill="#d9d9d9"/>
<path d="M225.95,175.15L236.55,185.75000000000003M236.55,175.15L225.95,185.75000000000003" stroke="#fff" stroke-width="1.9" fill="none"/>
<path d="M98.9,640.3H108.6L103.75,645.4Z" fill="#c6c8cc"/>
<rect x="120" y="635" width="17.5" height="16.3" fill="#d9d9d9"/>
<path d="M122.15,643.15 Q128.75,633.75 135.35,643.15 Q128.75,652.55 122.15,643.15Z" fill="#fff"/><circle cx="128.75" cy="643.15" r="3.2" fill="#d9d9d9"/><circle cx="128.75" cy="643.15" r="1.7" fill="#fff"/>
<rect x="141.8" y="635" width="17" height="16.3" fill="#d9d9d9"/>
<g transform="translate(150.3,643.15)" fill="#fff"><path d="M0,-4.94A4.94,4.94 0 1 1 -0.01,-4.94Z M0,-2.34A2.34,2.34 0 1 0 0.01,-2.34Z" fill-rule="evenodd"/><rect x="-1.09" y="-6.66" width="2.18" height="2.60" transform="rotate(0)"/><rect x="-1.09" y="-6.66" width="2.18" height="2.60" transform="rotate(45)"/><rect x="-1.09" y="-6.66" width="2.18" height="2.60" transform="rotate(90)"/><rect x="-1.09" y="-6.66" width="2.18" height="2.60" transform="rotate(135)"/><rect x="-1.09" y="-6.66" width="2.18" height="2.60" transform="rotate(180)"/><rect x="-1.09" y="-6.66" width="2.18" height="2.60" transform="rotate(225)"/><rect x="-1.09" y="-6.66" width="2.18" height="2.60" transform="rotate(270)"/><rect x="-1.09" y="-6.66" width="2.18" height="2.60" transform="rotate(315)"/></g>
<rect x="163" y="635" width="16.5" height="16.3" fill="#d9d9d9"/>
<path d="M165.95,637.85L176.55,648.4499999999999M176.55,637.85L165.95,648.4499999999999" stroke="#fff" stroke-width="1.9" fill="none"/>
<path d="M69.1,711H78.8L73.94999999999999,716.1Z" fill="#c6c8cc"/>
<rect x="90.8" y="705.5" width="18" height="16.3" fill="#d9d9d9"/>
<path d="M93.2,713.65 Q99.8,704.25 106.39999999999999,713.65 Q99.8,723.05 93.2,713.65Z" fill="#fff"/><circle cx="99.8" cy="713.65" r="3.2" fill="#d9d9d9"/><circle cx="99.8" cy="713.65" r="1.7" fill="#fff"/>
<rect x="113" y="705.5" width="16.5" height="16.3" fill="#d9d9d9"/>
<g transform="translate(121.25,713.65)" fill="#fff"><path d="M0,-4.94A4.94,4.94 0 1 1 -0.01,-4.94Z M0,-2.34A2.34,2.34 0 1 0 0.01,-2.34Z" fill-rule="evenodd"/><rect x="-1.09" y="-6.66" width="2.18" height="2.60" transform="rotate(0)"/><rect x="-1.09" y="-6.66" width="2.18" height="2.60" transform="rotate(45)"/><rect x="-1.09" y="-6.66" width="2.18" height="2.60" transform="rotate(90)"/><rect x="-1.09" y="-6.66" width="2.18" height="2.60" transform="rotate(135)"/><rect x="-1.09" y="-6.66" width="2.18" height="2.60" transform="rotate(180)"/><rect x="-1.09" y="-6.66" width="2.18" height="2.60" transform="rotate(225)"/><rect x="-1.09" y="-6.66" width="2.18" height="2.60" transform="rotate(270)"/><rect x="-1.09" y="-6.66" width="2.18" height="2.60" transform="rotate(315)"/></g>
<rect x="134.3" y="705.5" width="16.5" height="16.3" fill="#d9d9d9"/>
<path d="M137.25,708.35L147.85000000000002,718.9499999999999M147.85000000000002,708.35L137.25,718.9499999999999" stroke="#fff" stroke-width="1.9" fill="none"/>
<circle cx="1640.5" cy="73.6" r="3.4" fill="#999"/>
<rect x="1705" y="84.3" width="17.8" height="16.3" fill="#d9d9d9"/><rect x="1726" y="84.3" width="17.8" height="16.3" fill="#d9d9d9"/>
<path d="M1712.6,88h2.8v7.3h2l-3.4,3l-3.4,-3h2Z" fill="#fff"/>
<path d="M1735,85.3l3.3,3.9h-1.9v7.6h1.9l-3.3,3.4l-3.3,-3.4h1.9v-7.6h-1.9Z" fill="#fff"/>
<path d="M4.1,414.6 Q3.2,420 0.8,422.8 Q3.2,425.6 4.1,431Z" fill="#c9c9c9"/>
<rect x="5.5" y="6.5" width="384.9" height="36" fill="#fff" stroke="#d8dbe0" stroke-width="1"/>
<rect x="314" y="7" width="50" height="35" fill="#f1f3f6"/>
<rect x="129.0" y="7" width="1" height="35" fill="#d8dbe0"/>
<rect x="167.9" y="7" width="1" height="35" fill="#d8dbe0"/>
<rect x="214.9" y="7" width="1" height="35" fill="#d8dbe0"/>
<rect x="262.7" y="7" width="1" height="35" fill="#d8dbe0"/>
<rect x="313.0" y="7" width="1" height="35" fill="#d8dbe0"/>
<rect x="363.9" y="7" width="1" height="35" fill="#d8dbe0"/>
<rect x="396.4" y="6.5" width="186.20000000000005" height="36" fill="#fff" stroke="#d8dbe0" stroke-width="1"/>
<rect x="397" y="7" width="52" height="35" fill="#f1f3f6"/>
<rect x="449.0" y="7" width="1" height="35" fill="#d8dbe0"/>
<rect x="503.0" y="7" width="1" height="35" fill="#d8dbe0"/>
<rect x="556.0" y="7" width="1" height="35" fill="#d8dbe0"/>
<rect x="588.6" y="6.5" width="47.0" height="36" fill="#fff" stroke="#d8dbe0" stroke-width="1"/>
<rect x="641.4" y="6.5" width="53.10000000000002" height="36" fill="#fff" stroke="#d8dbe0" stroke-width="1"/>
<rect x="700.2" y="6.5" width="53.39999999999998" height="36" fill="#fff" stroke="#d8dbe0" stroke-width="1"/>
<rect x="759.3" y="6.5" width="65.20000000000005" height="36" fill="#fff" stroke="#d8dbe0" stroke-width="1"/>
<rect x="792.2" y="7" width="31.799999999999955" height="35" fill="#f1f3f6"/>
<rect x="791.2" y="7" width="1" height="35" fill="#d8dbe0"/>
<rect x="831.2" y="6.5" width="41.39999999999998" height="36" fill="#fff" stroke="#d8dbe0" stroke-width="1"/>
<rect x="1395.3" y="6.5" width="56.40000000000009" height="36" fill="#fff" stroke="#d8dbe0" stroke-width="1"/>
<rect x="1457.4" y="6.5" width="57.5" height="36" fill="#fff" stroke="#d8dbe0" stroke-width="1"/>
<rect x="1520.4" y="6.5" width="263.5" height="36" fill="#fff" stroke="#d8dbe0" stroke-width="1"/>
<rect x="1650.6" y="7" width="108.20000000000005" height="35" fill="#e6e6e6"/>
<rect x="1583.3" y="7" width="1" height="35" fill="#d8dbe0"/>
<rect x="1789.6" y="6.5" width="40.40000000000009" height="36" fill="#fff" stroke="#d8dbe0" stroke-width="1"/>
<path d="M370.9,22.1h10l-5,4.9Z" fill="#444"/>
<path d="M564.2,22.1h10l-5,4.9Z" fill="#444"/>
<path d="M1498.2,22.1h10l-5,4.9Z" fill="#444"/>
<path d="M1766.3,22.1h10l-5,4.9Z" fill="#444"/>
<path d="M418.4,14.3V20.7M418.4,33V36.8M427.5,12.9V17M427.5,30.7V36.8" stroke="#3bb3e4" stroke-width="1.4"/>
<rect x="416" y="21.2" width="4.9" height="11.5" fill="none" stroke="#3bb3e4" stroke-width="1.3"/>
<rect x="424.3" y="16.9" width="6.4" height="13.8" fill="#3bb3e4"/>
<path d="M465.3,29.2L469.3,25L473.6,29.3L480.7,22.3H485L487.4,19.2V32.9H465.3Z" fill="#d6d6d6"/>
<path d="M465.3,28.6L469.3,24.6L473.6,29L480.7,22.1H485L487.4,18.6" stroke="#7a7a7a" stroke-width="1.8" fill="none"/>
<path d="M523.6,16.9V35.4M523.6,19.3H528.5M519.3,32.9H523.6M535.4,14.3V33.1M530.7,23.6H535.4M535.4,30H540" stroke="#6a6a6a" stroke-width="2.1" fill="none"/>
<g fill="#7a7a7a"><rect x="658.3" y="30" width="2.1" height="4.3"/><rect x="662" y="27" width="2.1" height="7.3"/><rect x="665.8" y="30" width="2.1" height="4.3"/><rect x="669.7" y="25" width="2.1" height="9.3"/><rect x="673.3" y="27.9" width="2.1" height="6.4"/><rect x="676.9" y="22" width="2.1" height="12.3"/></g>
<path d="M659,24.6L663,21.4L666.9,23.6L670.7,19L674.3,22.9L678,16.9" stroke="#7a7a7a" stroke-width="1.2" fill="none"/><circle cx="659" cy="24.6" r="1.1" fill="#7a7a7a"/><circle cx="678" cy="16.9" r="1.1" fill="#7a7a7a"/>
<g stroke="#7a7a7a" stroke-width="1.1" fill="none"><path d="M717,18.9H737M720.3,19L716.6,29.3M720.3,19L724,29.3M733.6,19L729.9,29.3M733.6,19L737.3,29.3"/></g>
<path d="M716,29.3h8.6a4.3,3.8 0 0 1 -8.6,0ZM729.3,29.3h8.6a4.3,3.8 0 0 1 -8.6,0Z" fill="#7a7a7a"/><circle cx="727" cy="18" r="1.5" fill="#7a7a7a"/>
<path d="M767.9,25.7L775.6,20V23.6C781.5,23.6 784.6,27 784.6,32C782.6,28.8 780,27.8 775.6,27.8V31.4Z" fill="#777"/>
<path d="M817,25.7L809.3,20V23.6C803.4,23.6 800.3,27 800.3,32C802.3,28.8 804.9,27.8 809.3,27.8V31.4Z" fill="#aaa"/>
<path d="M850,16.4c-1,0 -1.6,0.7 -1.6,1.6c-3,0.9 -4.6,3.6 -4.6,7v4.3l-2.4,2.6v1.2h17.2v-1.2l-2.4,-2.6v-4.3c0,-3.4 -1.6,-6.1 -4.6,-7c0,-0.9 -0.6,-1.6 -1.6,-1.6ZM847.6,34.3a2.4,2.2 0 0 0 4.8,0Z" fill="#808080"/>
<path d="M859.4,26.3v9.6M854.6,31.1h9.6" stroke="#fff" stroke-width="4.2"/><path d="M859.4,26.8v8.6M855.1,31.1h8.6" stroke="#808080" stroke-width="2.1"/>
<path d="M1413.1,18.6h3.6l1.6,-3.2h10.6l1.6,3.2h3.2a2,2 0 0 1 2,2v11.7a2,2 0 0 1 -2,2h-20.6a2,2 0 0 1 -2,-2v-11.7a2,2 0 0 1 2,-2Z" fill="#808080"/><circle cx="1423.6" cy="26.4" r="4.75" fill="none" stroke="#fff" stroke-width="3.1"/>
<rect x="1466" y="14.5" width="20.2" height="19.8" fill="#e7e7e7" stroke="#8c8c8c" stroke-width="1.3"/>
<path d="M1542.9,34.2h-1.2a5.2,5.2 0 0 1 -0.6,-10.3a5.6,5.6 0 0 1 5.6,-4.2a7.6,7.6 0 0 1 14.2,1.6a6.5,6.5 0 0 1 1.6,12.9Z" fill="none" stroke="#8a8a8a" stroke-width="1.2"/>
<path d="M1549.2,25.6h5.6v5.2h3.4l-6.2,6.2l-6.2,-6.2h3.4Z" fill="#fff" stroke="#8a8a8a" stroke-width="1.1"/>
<path d="M1606.1,34.2h-1.2a5.2,5.2 0 0 1 -0.6,-10.3a5.6,5.6 0 0 1 5.6,-4.2a7.6,7.6 0 0 1 14.2,1.6a6.5,6.5 0 0 1 1.6,12.9Z" fill="none" stroke="#8a8a8a" stroke-width="1.2"/>
<path d="M1612.6,36.8v-7.2h-3.8l6.6,-6.6l6.6,6.6h-3.8v7.2Z" fill="#8a8a90"/>
<path d="M1804.0,21.2L1797.8999999999999,15.1" stroke="#6e6e6e" stroke-width="2.2"/><path d="M1796.3999999999999,13.6L1802.9999999999998,13.6L1796.3999999999999,20.2Z" fill="#6e6e6e"/>
<path d="M1811.6,21.2L1817.7,15.1" stroke="#6e6e6e" stroke-width="2.2"/><path d="M1819.2,13.6L1812.6000000000001,13.6L1819.2,20.2Z" fill="#6e6e6e"/>
<path d="M1804.0,28.400000000000002L1797.8999999999999,34.5" stroke="#6e6e6e" stroke-width="2.2"/><path d="M1796.3999999999999,36.0L1802.9999999999998,36.0L1796.3999999999999,29.4Z" fill="#6e6e6e"/>
<path d="M1811.6,28.400000000000002L1817.7,34.5" stroke="#6e6e6e" stroke-width="2.2"/><path d="M1819.2,36.0L1812.6000000000001,36.0L1819.2,29.4Z" fill="#6e6e6e"/>
<rect x="5.3" y="49.8" width="1817" height="1.2" fill="#d4d7dd"/>
<rect x="37.8" y="43.5" width="1" height="6.5" fill="#d8dbe0"/>
<path d="M18.8,48.4h6.4l-3.2,-3.6Z" fill="#cfcfcf"/>
<g transform="translate(612.1,25.7)" fill="#7a7a7a"><path d="M0,-7.79A7.79,7.79 0 1 1 -0.01,-7.79Z M0,-4.40A4.40,4.40 0 1 0 0.01,-4.40Z" fill-rule="evenodd"/><rect x="-1.72" y="-10.50" width="3.44" height="4.10" transform="rotate(0)"/><rect x="-1.72" y="-10.50" width="3.44" height="4.10" transform="rotate(45)"/><rect x="-1.72" y="-10.50" width="3.44" height="4.10" transform="rotate(90)"/><rect x="-1.72" y="-10.50" width="3.44" height="4.10" transform="rotate(135)"/><rect x="-1.72" y="-10.50" width="3.44" height="4.10" transform="rotate(180)"/><rect x="-1.72" y="-10.50" width="3.44" height="4.10" transform="rotate(225)"/><rect x="-1.72" y="-10.50" width="3.44" height="4.10" transform="rotate(270)"/><rect x="-1.72" y="-10.50" width="3.44" height="4.10" transform="rotate(315)"/></g>
</svg>
<div id="labels">
<span class="t" style="left:1760.80px;top:90.71px;font-size:13.3px;line-height:15.96px;color:#646464;">19.00</span>
<span class="t" style="left:1760.80px;top:126.71px;font-size:13.3px;line-height:15.96px;color:#646464;">18.00</span>
<span class="t" style="left:1760.80px;top:161.71px;font-size:13.3px;line-height:15.96px;color:#646464;">17.00</span>
<span class="t" style="left:1760.80px;top:196.71px;font-size:13.3px;line-height:15.96px;color:#646464;">16.00</span>
<span class="t" style="left:1760.80px;top:231.71px;font-size:13.3px;line-height:15.96px;color:#646464;">15.00</span>
<span class="t" style="left:1760.80px;top:371.71px;font-size:13.3px;line-height:15.96px;color:#646464;">11.00</span>
<span class="t" style="left:1760.80px;top:406.71px;font-size:13.3px;line-height:15.96px;color:#646464;">10.00</span>
<span class="t" style="left:1760.80px;top:441.71px;font-size:13.3px;line-height:15.96px;color:#646464;">9.00</span>
<span class="t" style="left:1760.80px;top:476.71px;font-size:13.3px;line-height:15.96px;color:#646464;">8.00</span>
<span class="t" style="left:1760.80px;top:511.71px;font-size:13.3px;line-height:15.96px;color:#646464;">7.00</span>
<span class="t" style="left:1760.80px;top:546.71px;font-size:13.3px;line-height:15.96px;color:#646464;">6.00</span>
<span class="t" style="left:1760.80px;top:581.71px;font-size:13.3px;line-height:15.96px;color:#646464;">5.00</span>
<span class="t" style="left:1760.80px;top:626.41px;font-size:13.3px;line-height:15.96px;color:#646464;">10M</span>
<span class="t" style="left:1760.80px;top:708.31px;font-size:13.3px;line-height:15.96px;color:#646464;">80.0000</span>
<span class="t" style="left:1760.80px;top:760.11px;font-size:13.3px;line-height:15.96px;color:#646464;clip-path:inset(7.3px 0 0 0);">40.0000</span>
<span class="t" style="left:1759.90px;top:58.05px;font-size:14px;line-height:16.8px;color:#fff;transform:scaleX(0.9850);-webkit-text-stroke:0.18px #fff;">19.94</span>
<span class="t" style="left:1759.90px;top:265.45px;font-size:14px;line-height:16.8px;color:#fff;transform:scaleX(0.9850);-webkit-text-stroke:0.18px #fff;">14.04</span>
<span class="t" style="left:1759.90px;top:288.95px;font-size:14px;line-height:16.8px;color:#111;transform:scaleX(0.9850);-webkit-text-stroke:0.18px #111;">13.36</span>
<span class="t" style="left:1759.90px;top:309.25px;font-size:14px;line-height:16.8px;color:#fff;transform:scaleX(0.9850);-webkit-text-stroke:0.18px #fff;">13.25</span>
<span class="t" style="left:1759.90px;top:329.35px;font-size:14px;line-height:16.8px;color:#fff;transform:scaleX(0.9850);-webkit-text-stroke:0.18px #fff;">13.19</span>
<span class="t" style="left:1759.90px;top:349.35px;font-size:14px;line-height:16.8px;color:#fff;transform:scaleX(0.9850);-webkit-text-stroke:0.18px #fff;">12.93</span>
<span class="t" style="left:1759.90px;top:658.95px;font-size:14px;line-height:16.8px;color:#fff;transform:scaleX(0.9850);-webkit-text-stroke:0.18px #fff;">1.472M</span>
<span class="t" style="left:1759.90px;top:679.25px;font-size:14px;line-height:16.8px;color:#fff;transform:scaleX(0.9850);-webkit-text-stroke:0.18px #fff;clip-path:inset(0 0 3.9px 0);">603.027K</span>
<span class="t" style="left:1759.90px;top:749.75px;font-size:14px;line-height:16.8px;color:#fff;transform:scaleX(0.9850);-webkit-text-stroke:0.18px #fff;">47.9109</span>
<span class="t" style="left:10.75px;top:792.71px;font-size:13.3px;line-height:15.96px;color:#fff;font-weight:bold;transform:scaleX(1.0402);">2020-05-04</span>
<span class="t" style="left:121.33px;top:792.61px;font-size:13.3px;line-height:15.96px;color:#555;">Jul</span>
<span class="t" style="left:385.71px;top:792.24px;font-size:13.8px;line-height:16.56px;color:#484848;font-weight:bold;">2021</span>
<span class="t" style="left:929.01px;top:792.24px;font-size:13.8px;line-height:16.56px;color:#484848;font-weight:bold;">2022</span>
<span class="t" style="left:1470.01px;top:792.24px;font-size:13.8px;line-height:16.56px;color:#484848;font-weight:bold;">2023</span>
<span class="t" style="left:36.30px;top:63.67px;font-size:20px;line-height:24.0px;color:#555;transform:scaleX(1.0768);">Netwealth Group Ltd, Australia, W, Sydney</span>
<span class="t" style="left:520.30px;top:66.51px;font-size:17px;line-height:20.4px;color:#555;transform:scaleX(0.8697);">O</span>
<span class="t" style="left:535.50px;top:66.51px;font-size:17px;line-height:20.4px;color:#1d5c3c;transform:scaleX(1.0427);">7.12</span>
<span class="t" style="left:583.40px;top:66.51px;font-size:17px;line-height:20.4px;color:#555;transform:scaleX(0.8960);">H</span>
<span class="t" style="left:598.30px;top:66.51px;font-size:17px;line-height:20.4px;color:#1d5c3c;transform:scaleX(1.0427);">7.88</span>
<span class="t" style="left:647.00px;top:66.51px;font-size:17px;line-height:20.4px;color:#555;transform:scaleX(0.8461);">L</span>
<span class="t" style="left:657.70px;top:66.51px;font-size:17px;line-height:20.4px;color:#1d5c3c;transform:scaleX(1.0427);">7.12</span>
<span class="t" style="left:705.70px;top:66.51px;font-size:17px;line-height:20.4px;color:#555;transform:scaleX(0.8552);">C</span>
<span class="t" style="left:720.30px;top:66.51px;font-size:17px;line-height:20.4px;color:#1d5c3c;transform:scaleX(1.0336);">7.80</span>
<span class="t" style="left:13.00px;top:93.55px;font-size:14px;line-height:16.8px;color:#555;transform:scaleX(1.0377);">EMA (20, close, 0)</span>
<span class="t" style="left:230.00px;top:93.55px;font-size:14px;line-height:16.8px;color:#ff0000;transform:scaleX(1.0321);">7.5904</span>
<span class="t" style="left:13.00px;top:119.55px;font-size:14px;line-height:16.8px;color:#555;transform:scaleX(1.0377);">EMA (50, close, 0)</span>
<span class="t" style="left:230.00px;top:119.55px;font-size:14px;line-height:16.8px;color:#4985e7;transform:scaleX(1.0321);">7.8887</span>
<span class="t" style="left:13.00px;top:145.55px;font-size:14px;line-height:16.8px;color:#555;transform:scaleX(1.0370);">EMA (100, close, 0)</span>
<span class="t" style="left:238.30px;top:145.55px;font-size:14px;line-height:16.8px;color:#00f200;transform:scaleX(1.0134);">7.8201</span>
<span class="t" style="left:13.00px;top:171.55px;font-size:14px;line-height:16.8px;color:#555;transform:scaleX(1.0545);">SAR (0.02, 0.02, 0.2)</span>
<span class="t" style="left:250.00px;top:171.55px;font-size:14px;line-height:16.8px;color:#0000ff;transform:scaleX(1.0111);">5.2972</span>
<span class="t" style="left:13.00px;top:634.75px;font-size:14px;line-height:16.8px;color:#555;transform:scaleX(1.0465);">Volume (20)</span>
<span class="t" style="left:190.50px;top:634.75px;font-size:14px;line-height:16.8px;color:#00c176;transform:scaleX(1.0171);">2.982M</span>
<span class="t" style="left:250.80px;top:634.75px;font-size:14px;line-height:16.8px;color:#222;">3.433M</span>
<span class="t" style="left:13.00px;top:705.55px;font-size:14px;line-height:16.8px;color:#555;transform:scaleX(0.9592);">RSI (14)</span>
<span class="t" style="left:162.00px;top:705.55px;font-size:14px;line-height:16.8px;color:#800080;transform:scaleX(1.0234);">51.2794</span>
<span class="t" style="left:1649.40px;top:65.85px;font-size:14px;line-height:16.8px;color:#999;transform:scaleX(1.0392);">Market Closed</span>
<span class="t" style="left:22.70px;top:576.39px;font-size:26px;line-height:31.2px;color:#050505;font-weight:bold;transform:scaleX(0.9751);-webkit-text-stroke:0.7px #050505;">Investing</span>
<span class="t" style="left:135.40px;top:583.02px;font-size:19px;line-height:22.8px;color:#4a4a4a;transform:scaleX(0.8938);">.com</span>
<div style="position:absolute;left:96.4px;top:578.6px;width:7px;height:6.2px;background:#f7941d;clip-path:polygon(28% 42%,100% 0,96% 78%,34% 100%);"></div>
<span class="t" style="left:15.40px;top:16.17px;font-size:14.3px;line-height:17.16px;color:#444;font-weight:bold;transform:scaleX(1.0263);">NWL</span>
<span class="t" style="left:144.84px;top:16.17px;font-size:14.3px;line-height:17.16px;color:#444;font-weight:bold;">5</span>
<span class="t" style="left:185.30px;top:16.17px;font-size:14.3px;line-height:17.16px;color:#444;font-weight:bold;transform:scaleX(0.9019);">1h</span>
<span class="t" style="left:232.15px;top:16.17px;font-size:14.3px;line-height:17.16px;color:#444;font-weight:bold;transform:scaleX(0.9058);">1D</span>
<span class="t" style="left:280.15px;top:16.17px;font-size:14.3px;line-height:17.16px;color:#444;font-weight:bold;transform:scaleX(0.9345);">1M</span>
<span class="t" style="left:329.45px;top:16.17px;font-size:14.3px;line-height:17.16px;color:#3bb3e4;transform:scaleX(0.9123);-webkit-text-stroke:0.25px #3bb3e4;">1W</span>
<span class="t" style="left:1658.40px;top:16.15px;font-size:14px;line-height:16.8px;color:#7c7c7c;font-weight:bold;transform:scaleX(0.9266);">Regular Charts</span>
</div>
</body></html>
